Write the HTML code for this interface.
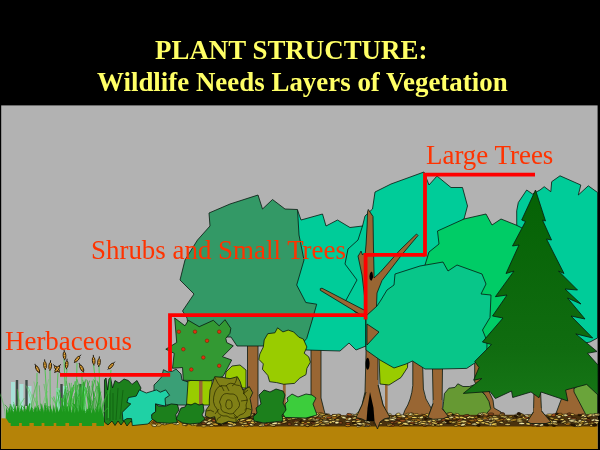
<!DOCTYPE html>
<html><head><meta charset="utf-8"><title>Plant Structure</title>
<style>
html,body{margin:0;padding:0;background:#000;}
#w{position:relative;width:600px;height:450px;overflow:hidden;background:#000;font-family:"Liberation Serif",serif;}
svg{position:absolute;left:0;top:0;filter:blur(0.3px);}
.t{position:absolute;white-space:nowrap;line-height:1;font-size:27.7px;transform:scaleX(0.972);transform-origin:0 0;}
.ttl{color:#ffff66;font-weight:bold;}
.lab{color:#ff3300;}
</style></head><body>
<div id="w">
<svg width="600" height="450" viewBox="0 0 600 450">
<rect x="0" y="0" width="600" height="450" fill="#000"/>
<rect x="1.2" y="105.4" width="596.4" height="343.6" fill="#b2b2b2"/>
<polygon points="570,417 571,391 579,385 586.7,382 592,384 597.6,387 597.6,417" fill="#6aa43a" stroke="#07180f" stroke-width="0.8" stroke-linejoin="miter" />
<polygon points="564,392 555,416 552,421 588,421 585,413 574,392 573,340 565,340" fill="#996633" stroke="#07180f" stroke-width="0.8" stroke-linejoin="miter" />
<polygon points="516.7,210.8 518.3,202.5 526.7,190 532.5,194 540,190 544.2,186.7 550.8,191.7 551.7,181.7 560,175.8 580.8,185 578.3,195 588.3,185.8 597.6,192.5 597.5,338 590,342 560,348 517,300" fill="#00cc99" stroke="#07180f" stroke-width="0.8" stroke-linejoin="miter" />
<polygon points="372.5,209 375,192 391,184 424,172 429,185 437,176 451,187.5 462.5,187.5 467.5,206 464,219 445,235 445,300 366,346 335,330 336,265 342,245 360,228 362.5,226 365,216" fill="#00cc99" stroke="#07180f" stroke-width="0.8" stroke-linejoin="miter" />
<polygon points="474.7,360 484,360 486,385 493,400 494,408 501,412 501,416 483,416 486,408 485,395 478,386 474.7,382" fill="#996633" stroke="#07180f" stroke-width="0.8" stroke-linejoin="miter" />
<polygon points="425,265 429,252 439,244 437.5,231 464,219 486,214 492,225 501,219 516,225 530,232 530,350 484,352 425,300" fill="#00cc66" stroke="#07180f" stroke-width="0.8" stroke-linejoin="miter" />
<polygon points="311,348 311,400 314,410 313,417 326,417 324,410 321,398 321,348" fill="#996633" stroke="#07180f" stroke-width="0.8" stroke-linejoin="miter" />
<polygon points="297.5,210 301,220 322.5,214 326,226 337.5,220 350,227.5 362.5,226 358,240 348,249 345,264 357,280 345,302 355,312 366,316 366,346 356,350 349,343 340,351 306,350 298,330 285,300 285,250" fill="#00cc99" stroke="#07180f" stroke-width="0.8" stroke-linejoin="miter" />
<polygon points="247.5,345 247.5,412 244,417 262,417 258,410 258,345" fill="#996633" stroke="#07180f" stroke-width="0.8" stroke-linejoin="miter" />
<polygon points="182.5,311 194,294 180,280 185,260 197.5,240 210,226 209,213 230,204 258,195 262.5,209 272.5,199.5 285,209 297.5,209.5 299,235 304,260 296.7,285 305.8,302.5 316.7,304.2 312.5,319 306.7,338.5 300,346 262,346 237,346 231,337 190,337 187,318" fill="#339966" stroke="#07180f" stroke-width="0.8" stroke-linejoin="miter" />
<polygon points="368.3,209.5 373,216.5 373.4,244 374,272 374,278 380,272.5 400,250 416.5,234 418,235.5 402,254.5 382,280.5 377,293 376.5,306 378,350 378,385 383,405 390,417.5 384,419 380,422 377.5,429 374,421 366,421 356,417.5 362,405 365,392 366,354 366,318 320.3,290.3 320.3,288.6 322,288.2 365,310.5 365,300 362,275 358,256 359.5,254 361,251 362.5,255 364,253.3 365.2,254 366.1,244 367.1,226 367.5,212" fill="#996633" stroke="#07180f" stroke-width="0.8" stroke-linejoin="miter" />
<path d="M371.2 271.5 q1.8 0.5 1.6 3 q0.8 2 -0.4 4.5 q-0.6 2 -1.6 1.6 q-1.6 -1.5 -1.4 -4.4 q0.2 -3.2 1.8 -4.7z" fill="#000"/>
<ellipse cx="367.6" cy="363.8" rx="2" ry="6" fill="#000"/>
<polygon points="370,392 373.5,408 374.5,420 366.5,420 367.5,408" fill="#000" stroke="none" stroke-width="0" stroke-linejoin="miter" />
<rect x="385" y="380" width="2.6" height="36" fill="#996633"/>
<polygon points="379,355 380,384 389,385 401,377.5 407.5,367.5 408,355" fill="#99cc00" stroke="#07180f" stroke-width="0.8" stroke-linejoin="miter" />
<path d="M412.8 360 V385.5 Q411.5 400 404.8 410.4 L402.5 417 H433 L431.4 408.6 Q424.5 399 423.4 389 L422.5 360 Z" fill="#996633" stroke="#07180f" stroke-width="0.8"/>
<polygon points="432.3,360 433.2,403.3 430,412 427.9,417.5 448.3,417.5 445,412 442,408.6 442.6,360" fill="#996633" stroke="#07180f" stroke-width="0.8" stroke-linejoin="miter" />
<polygon points="387,290 394,285 395,274 420,266 443,262 448,271 457,265 482,274 486,284 481,294 491,295 490,317.5 482.5,330 487,341 486.8,352.4 474.8,363 466.7,368.4 440,369 425,369 412.5,361 406,364 394,368 380,360 366,350 366,316 377,306 381,300" fill="#08c689" stroke="#07180f" stroke-width="0.8" stroke-linejoin="miter" />
<polygon points="367,324 379,332 367,345" fill="#996633" stroke="#07180f" stroke-width="0.8" stroke-linejoin="miter" />
<polygon points="447,416 442.7,408.7 443.6,401.6 444.4,393.6 448.9,388.2 455,387.4 457.8,383.8 463,386.5 469.3,386.5 474,385 480,390 485.4,395.4 489,401.6 490.7,408.7 487,413 486,417" fill="#669933" stroke="#07180f" stroke-width="0.8" stroke-linejoin="miter" />
<polygon points="534,390 533.5,412 526,423 551,423 541.5,411 540.5,390" fill="#996633" stroke="#07180f" stroke-width="0.8" stroke-linejoin="miter" />
<defs><linearGradient id="cg" x1="0" y1="0" x2="0" y2="1"><stop offset="0" stop-color="#056205"/><stop offset="0.75" stop-color="#106c10"/><stop offset="1" stop-color="#167616"/></linearGradient></defs>
<polygon points="535.5,190 545.5,221 542.5,220 551.5,240 546.5,239 564,273.5 558.5,271 577.5,290 565,289 581,304 567.5,298 585,319 571,316 592.7,338 575.8,333.9 597,351.5 587.5,353.3 598,365 598,395 586.7,384.4 565.6,390 567.8,401 541,392 539,397.8 531,392 512.7,397.5 511.5,391 495.4,398.5 490,391.5 463.3,393.4 481.8,378.5 473.6,380.2 479,367.5 474.7,361.4 491.5,344.5 482.4,342 503,318 492.5,316 507,295 495.4,296.7 514,271 506,273.5 519,245 512.5,246 525.5,221.5 521.7,220" fill="url(#cg)" stroke="#07180f" stroke-width="0.8" stroke-linejoin="miter" />
<rect x="282.9" y="380" width="2.8" height="36" fill="#996633"/>
<polygon points="267.8,333.7 274.9,332.8 277.6,327.8 282.9,331.9 288.2,330.1 293.6,331.9 298.9,337.2 303.3,339 306.9,347 304.2,353.2 308.7,356.8 310.4,362.1 306.9,368.3 306,374.6 299.8,378.1 294.4,383.4 283.8,384.3 276.7,382.6 269.6,381.7 267.8,375.4 262.4,369.2 263.3,363.9 258.9,359.4 259.8,354.1 263.3,347 264.2,339.9" fill="#99cc00" stroke="#07180f" stroke-width="0.8" stroke-linejoin="miter" />
<polygon points="224,388 226,372 232,366 240,365 246,370 246,388" fill="#99cc00" stroke="#07180f" stroke-width="0.8" stroke-linejoin="miter" />
<polygon points="185,405 186,382 192,380 212,380 212,405" fill="#99cc00" stroke="#07180f" stroke-width="0.8" stroke-linejoin="miter" />
<rect x="1.2" y="418.3" width="596.4" height="30.7" fill="#b58308"/>
<path d="M196 426.6 L200 417 L230 415.5 L597.5 414.5 V426.6 Z" fill="#4a320e"/>
<ellipse cx="448.4" cy="422.6" rx="2.8" ry="1.2" fill="#2a1804" stroke="#140c02" stroke-width="0.55" transform="rotate(4 448.4 422.6)"/>
<ellipse cx="411.8" cy="423.7" rx="3.1" ry="1.1" fill="#2a1804" stroke="#140c02" stroke-width="0.55" transform="rotate(11 411.8 423.7)"/>
<ellipse cx="247.6" cy="419.3" rx="2.3" ry="0.9" fill="#f0d060" stroke="#140c02" stroke-width="0.55" transform="rotate(-7 247.6 419.3)"/>
<ellipse cx="491.1" cy="418.6" rx="3.1" ry="1.2" fill="#f0d060" stroke="#140c02" stroke-width="0.55" transform="rotate(-10 491.1 418.6)"/>
<ellipse cx="517.1" cy="415.4" rx="2.4" ry="0.9" fill="#f7e9a0" stroke="#140c02" stroke-width="0.55" transform="rotate(13 517.1 415.4)"/>
<ellipse cx="205.1" cy="422.9" rx="3.0" ry="0.9" fill="#f0d060" stroke="#140c02" stroke-width="0.55" transform="rotate(13 205.1 422.9)"/>
<ellipse cx="415.5" cy="421.8" rx="2.1" ry="1.3" fill="#f0d060" stroke="#140c02" stroke-width="0.55" transform="rotate(-8 415.5 421.8)"/>
<ellipse cx="583.2" cy="418.3" rx="2.3" ry="0.9" fill="#f3dc78" stroke="#140c02" stroke-width="0.55" transform="rotate(-10 583.2 418.3)"/>
<ellipse cx="228.7" cy="417.4" rx="2.6" ry="1.1" fill="#f7e9a0" stroke="#140c02" stroke-width="0.55" transform="rotate(6 228.7 417.4)"/>
<ellipse cx="229.0" cy="418.0" rx="2.5" ry="1.0" fill="#e8c24a" stroke="#140c02" stroke-width="0.55" transform="rotate(-1 229.0 418.0)"/>
<ellipse cx="480.6" cy="414.5" rx="3.1" ry="1.0" fill="#f3dc78" stroke="#140c02" stroke-width="0.55" transform="rotate(-3 480.6 414.5)"/>
<ellipse cx="419.3" cy="418.7" rx="2.6" ry="0.8" fill="#c99a2a" stroke="#140c02" stroke-width="0.55" transform="rotate(-13 419.3 418.7)"/>
<ellipse cx="274.3" cy="425.1" rx="2.0" ry="0.9" fill="#f0d060" stroke="#140c02" stroke-width="0.55" transform="rotate(9 274.3 425.1)"/>
<ellipse cx="385.1" cy="419.8" rx="2.2" ry="1.0" fill="#a8551f" stroke="#140c02" stroke-width="0.55" transform="rotate(3 385.1 419.8)"/>
<ellipse cx="510.7" cy="418.1" rx="1.9" ry="1.3" fill="#e8c24a" stroke="#140c02" stroke-width="0.55" transform="rotate(-11 510.7 418.1)"/>
<ellipse cx="337.3" cy="421.0" rx="2.3" ry="1.3" fill="#f0d060" stroke="#140c02" stroke-width="0.55" transform="rotate(1 337.3 421.0)"/>
<ellipse cx="326.1" cy="417.5" rx="2.9" ry="1.1" fill="#f0d060" stroke="#140c02" stroke-width="0.55" transform="rotate(6 326.1 417.5)"/>
<ellipse cx="324.9" cy="419.5" rx="1.9" ry="1.3" fill="#b4781c" stroke="#140c02" stroke-width="0.55" transform="rotate(1 324.9 419.5)"/>
<ellipse cx="362.9" cy="416.6" rx="2.3" ry="0.9" fill="#f7e9a0" stroke="#140c02" stroke-width="0.55" transform="rotate(4 362.9 416.6)"/>
<ellipse cx="260.4" cy="425.4" rx="1.8" ry="1.0" fill="#f7e9a0" stroke="#140c02" stroke-width="0.55" transform="rotate(9 260.4 425.4)"/>
<ellipse cx="254.4" cy="422.4" rx="2.7" ry="1.2" fill="#f0d060" stroke="#140c02" stroke-width="0.55" transform="rotate(-11 254.4 422.4)"/>
<ellipse cx="374.2" cy="415.6" rx="2.2" ry="1.0" fill="#c99a2a" stroke="#140c02" stroke-width="0.55" transform="rotate(14 374.2 415.6)"/>
<ellipse cx="538.8" cy="425.3" rx="3.1" ry="1.1" fill="#8b4a1f" stroke="#140c02" stroke-width="0.55" transform="rotate(-5 538.8 425.3)"/>
<ellipse cx="311.0" cy="419.3" rx="2.0" ry="1.2" fill="#f0d060" stroke="#140c02" stroke-width="0.55" transform="rotate(1 311.0 419.3)"/>
<ellipse cx="273.7" cy="424.9" rx="2.1" ry="1.0" fill="#e8c24a" stroke="#140c02" stroke-width="0.55" transform="rotate(0 273.7 424.9)"/>
<ellipse cx="419.0" cy="419.7" rx="2.9" ry="1.2" fill="#f3dc78" stroke="#140c02" stroke-width="0.55" transform="rotate(5 419.0 419.7)"/>
<ellipse cx="464.6" cy="422.8" rx="2.6" ry="1.1" fill="#e8c24a" stroke="#140c02" stroke-width="0.55" transform="rotate(9 464.6 422.8)"/>
<ellipse cx="307.4" cy="425.4" rx="2.2" ry="1.3" fill="#b4781c" stroke="#140c02" stroke-width="0.55" transform="rotate(4 307.4 425.4)"/>
<ellipse cx="431.8" cy="413.9" rx="2.9" ry="1.0" fill="#a8551f" stroke="#140c02" stroke-width="0.55" transform="rotate(-6 431.8 413.9)"/>
<ellipse cx="316.8" cy="419.7" rx="2.9" ry="1.0" fill="#f7e9a0" stroke="#140c02" stroke-width="0.55" transform="rotate(4 316.8 419.7)"/>
<ellipse cx="493.7" cy="423.6" rx="3.1" ry="0.9" fill="#e8c24a" stroke="#140c02" stroke-width="0.55" transform="rotate(10 493.7 423.6)"/>
<ellipse cx="380.2" cy="418.1" rx="2.5" ry="1.1" fill="#e8c24a" stroke="#140c02" stroke-width="0.55" transform="rotate(-9 380.2 418.1)"/>
<ellipse cx="532.6" cy="424.9" rx="2.2" ry="0.8" fill="#8b4a1f" stroke="#140c02" stroke-width="0.55" transform="rotate(5 532.6 424.9)"/>
<ellipse cx="367.2" cy="421.1" rx="2.5" ry="1.3" fill="#f7e9a0" stroke="#140c02" stroke-width="0.55" transform="rotate(-6 367.2 421.1)"/>
<ellipse cx="421.0" cy="424.0" rx="2.8" ry="0.8" fill="#e8c24a" stroke="#140c02" stroke-width="0.55" transform="rotate(-10 421.0 424.0)"/>
<ellipse cx="376.8" cy="421.5" rx="2.9" ry="0.9" fill="#f0d060" stroke="#140c02" stroke-width="0.55" transform="rotate(6 376.8 421.5)"/>
<ellipse cx="591.7" cy="425.4" rx="1.9" ry="0.9" fill="#f0d060" stroke="#140c02" stroke-width="0.55" transform="rotate(-5 591.7 425.4)"/>
<ellipse cx="274.5" cy="416.1" rx="2.4" ry="1.0" fill="#f3dc78" stroke="#140c02" stroke-width="0.55" transform="rotate(5 274.5 416.1)"/>
<ellipse cx="231.4" cy="416.2" rx="3.1" ry="0.8" fill="#b4781c" stroke="#140c02" stroke-width="0.55" transform="rotate(-3 231.4 416.2)"/>
<ellipse cx="312.7" cy="418.6" rx="2.8" ry="1.1" fill="#f3dc78" stroke="#140c02" stroke-width="0.55" transform="rotate(13 312.7 418.6)"/>
<ellipse cx="419.7" cy="417.4" rx="2.6" ry="1.0" fill="#e8c24a" stroke="#140c02" stroke-width="0.55" transform="rotate(2 419.7 417.4)"/>
<ellipse cx="580.6" cy="423.5" rx="2.4" ry="1.1" fill="#c99a2a" stroke="#140c02" stroke-width="0.55" transform="rotate(1 580.6 423.5)"/>
<ellipse cx="387.2" cy="415.6" rx="2.6" ry="1.3" fill="#c99a2a" stroke="#140c02" stroke-width="0.55" transform="rotate(13 387.2 415.6)"/>
<ellipse cx="442.8" cy="417.9" rx="1.8" ry="0.9" fill="#f7e9a0" stroke="#140c02" stroke-width="0.55" transform="rotate(2 442.8 417.9)"/>
<ellipse cx="445.4" cy="415.5" rx="3.0" ry="1.1" fill="#f7e9a0" stroke="#140c02" stroke-width="0.55" transform="rotate(-2 445.4 415.5)"/>
<ellipse cx="587.8" cy="419.6" rx="3.2" ry="1.0" fill="#8b4a1f" stroke="#140c02" stroke-width="0.55" transform="rotate(13 587.8 419.6)"/>
<ellipse cx="563.0" cy="420.8" rx="2.8" ry="1.0" fill="#e8c24a" stroke="#140c02" stroke-width="0.55" transform="rotate(-7 563.0 420.8)"/>
<ellipse cx="210.8" cy="425.0" rx="2.5" ry="0.9" fill="#e8c24a" stroke="#140c02" stroke-width="0.55" transform="rotate(-1 210.8 425.0)"/>
<ellipse cx="251.0" cy="421.1" rx="2.1" ry="0.8" fill="#8b4a1f" stroke="#140c02" stroke-width="0.55" transform="rotate(-10 251.0 421.1)"/>
<ellipse cx="357.6" cy="419.5" rx="2.2" ry="1.3" fill="#a8551f" stroke="#140c02" stroke-width="0.55" transform="rotate(8 357.6 419.5)"/>
<ellipse cx="299.8" cy="417.0" rx="2.8" ry="0.9" fill="#f0d060" stroke="#140c02" stroke-width="0.55" transform="rotate(-0 299.8 417.0)"/>
<ellipse cx="594.0" cy="419.9" rx="3.0" ry="1.2" fill="#f7e9a0" stroke="#140c02" stroke-width="0.55" transform="rotate(-14 594.0 419.9)"/>
<ellipse cx="252.7" cy="417.1" rx="2.3" ry="0.9" fill="#b4781c" stroke="#140c02" stroke-width="0.55" transform="rotate(1 252.7 417.1)"/>
<ellipse cx="385.9" cy="418.1" rx="2.9" ry="0.9" fill="#b4781c" stroke="#140c02" stroke-width="0.55" transform="rotate(-14 385.9 418.1)"/>
<ellipse cx="421.0" cy="421.9" rx="3.0" ry="1.1" fill="#f3dc78" stroke="#140c02" stroke-width="0.55" transform="rotate(-14 421.0 421.9)"/>
<ellipse cx="509.7" cy="418.8" rx="2.8" ry="1.3" fill="#f7e9a0" stroke="#140c02" stroke-width="0.55" transform="rotate(4 509.7 418.8)"/>
<ellipse cx="541.3" cy="423.7" rx="2.3" ry="1.2" fill="#8b4a1f" stroke="#140c02" stroke-width="0.55" transform="rotate(-8 541.3 423.7)"/>
<ellipse cx="319.8" cy="423.6" rx="2.2" ry="0.8" fill="#f3dc78" stroke="#140c02" stroke-width="0.55" transform="rotate(8 319.8 423.6)"/>
<ellipse cx="432.4" cy="421.5" rx="3.1" ry="0.9" fill="#8b4a1f" stroke="#140c02" stroke-width="0.55" transform="rotate(-1 432.4 421.5)"/>
<ellipse cx="419.3" cy="419.7" rx="2.6" ry="1.0" fill="#e8c24a" stroke="#140c02" stroke-width="0.55" transform="rotate(1 419.3 419.7)"/>
<ellipse cx="222.1" cy="422.4" rx="2.9" ry="1.2" fill="#e8c24a" stroke="#140c02" stroke-width="0.55" transform="rotate(5 222.1 422.4)"/>
<ellipse cx="213.1" cy="422.3" rx="3.2" ry="1.2" fill="#f3dc78" stroke="#140c02" stroke-width="0.55" transform="rotate(-13 213.1 422.3)"/>
<ellipse cx="534.8" cy="416.4" rx="3.0" ry="0.9" fill="#f7e9a0" stroke="#140c02" stroke-width="0.55" transform="rotate(11 534.8 416.4)"/>
<ellipse cx="594.7" cy="422.1" rx="2.0" ry="1.1" fill="#8b4a1f" stroke="#140c02" stroke-width="0.55" transform="rotate(-2 594.7 422.1)"/>
<ellipse cx="266.5" cy="421.1" rx="2.6" ry="1.1" fill="#f3dc78" stroke="#140c02" stroke-width="0.55" transform="rotate(7 266.5 421.1)"/>
<ellipse cx="313.3" cy="420.5" rx="2.8" ry="1.2" fill="#f3dc78" stroke="#140c02" stroke-width="0.55" transform="rotate(-10 313.3 420.5)"/>
<ellipse cx="373.1" cy="417.5" rx="2.5" ry="1.0" fill="#f7e9a0" stroke="#140c02" stroke-width="0.55" transform="rotate(4 373.1 417.5)"/>
<ellipse cx="563.4" cy="415.4" rx="2.0" ry="1.1" fill="#e8c24a" stroke="#140c02" stroke-width="0.55" transform="rotate(0 563.4 415.4)"/>
<ellipse cx="561.7" cy="420.3" rx="2.1" ry="0.8" fill="#f7e9a0" stroke="#140c02" stroke-width="0.55" transform="rotate(-7 561.7 420.3)"/>
<ellipse cx="531.0" cy="417.1" rx="2.9" ry="1.2" fill="#f0d060" stroke="#140c02" stroke-width="0.55" transform="rotate(-1 531.0 417.1)"/>
<ellipse cx="356.2" cy="415.3" rx="2.7" ry="0.8" fill="#f3dc78" stroke="#140c02" stroke-width="0.55" transform="rotate(5 356.2 415.3)"/>
<ellipse cx="238.9" cy="415.3" rx="2.4" ry="1.0" fill="#f7e9a0" stroke="#140c02" stroke-width="0.55" transform="rotate(-1 238.9 415.3)"/>
<ellipse cx="582.5" cy="415.1" rx="1.8" ry="1.2" fill="#a8551f" stroke="#140c02" stroke-width="0.55" transform="rotate(-12 582.5 415.1)"/>
<ellipse cx="262.4" cy="425.0" rx="2.9" ry="1.2" fill="#f7e9a0" stroke="#140c02" stroke-width="0.55" transform="rotate(-12 262.4 425.0)"/>
<ellipse cx="562.1" cy="419.6" rx="2.0" ry="1.1" fill="#f0d060" stroke="#140c02" stroke-width="0.55" transform="rotate(-4 562.1 419.6)"/>
<ellipse cx="295.6" cy="417.7" rx="2.8" ry="1.2" fill="#f7e9a0" stroke="#140c02" stroke-width="0.55" transform="rotate(-3 295.6 417.7)"/>
<ellipse cx="487.8" cy="418.0" rx="2.9" ry="1.0" fill="#e8c24a" stroke="#140c02" stroke-width="0.55" transform="rotate(10 487.8 418.0)"/>
<ellipse cx="406.9" cy="420.8" rx="2.1" ry="0.9" fill="#f7e9a0" stroke="#140c02" stroke-width="0.55" transform="rotate(-12 406.9 420.8)"/>
<ellipse cx="217.6" cy="416.0" rx="1.9" ry="1.2" fill="#f0d060" stroke="#140c02" stroke-width="0.55" transform="rotate(-1 217.6 416.0)"/>
<ellipse cx="502.6" cy="413.8" rx="2.2" ry="1.3" fill="#8b4a1f" stroke="#140c02" stroke-width="0.55" transform="rotate(12 502.6 413.8)"/>
<ellipse cx="330.4" cy="419.3" rx="2.0" ry="0.9" fill="#f0d060" stroke="#140c02" stroke-width="0.55" transform="rotate(-4 330.4 419.3)"/>
<ellipse cx="354.9" cy="424.2" rx="2.6" ry="0.9" fill="#f0d060" stroke="#140c02" stroke-width="0.55" transform="rotate(9 354.9 424.2)"/>
<ellipse cx="498.6" cy="421.7" rx="2.5" ry="0.8" fill="#f3dc78" stroke="#140c02" stroke-width="0.55" transform="rotate(12 498.6 421.7)"/>
<ellipse cx="348.4" cy="424.9" rx="1.8" ry="1.0" fill="#b4781c" stroke="#140c02" stroke-width="0.55" transform="rotate(10 348.4 424.9)"/>
<ellipse cx="264.5" cy="423.1" rx="2.2" ry="1.1" fill="#e8c24a" stroke="#140c02" stroke-width="0.55" transform="rotate(6 264.5 423.1)"/>
<ellipse cx="267.3" cy="416.2" rx="2.6" ry="1.1" fill="#f3dc78" stroke="#140c02" stroke-width="0.55" transform="rotate(3 267.3 416.2)"/>
<ellipse cx="562.2" cy="422.1" rx="2.2" ry="1.0" fill="#f7e9a0" stroke="#140c02" stroke-width="0.55" transform="rotate(-6 562.2 422.1)"/>
<ellipse cx="491.5" cy="422.3" rx="2.9" ry="0.9" fill="#f0d060" stroke="#140c02" stroke-width="0.55" transform="rotate(-8 491.5 422.3)"/>
<ellipse cx="220.3" cy="421.0" rx="3.2" ry="0.8" fill="#b4781c" stroke="#140c02" stroke-width="0.55" transform="rotate(-12 220.3 421.0)"/>
<ellipse cx="510.0" cy="418.6" rx="1.8" ry="1.2" fill="#f3dc78" stroke="#140c02" stroke-width="0.55" transform="rotate(9 510.0 418.6)"/>
<ellipse cx="425.7" cy="424.9" rx="1.9" ry="1.2" fill="#b4781c" stroke="#140c02" stroke-width="0.55" transform="rotate(-0 425.7 424.9)"/>
<ellipse cx="571.7" cy="414.4" rx="2.7" ry="1.0" fill="#f0d060" stroke="#140c02" stroke-width="0.55" transform="rotate(8 571.7 414.4)"/>
<ellipse cx="221.9" cy="423.6" rx="2.2" ry="0.8" fill="#8b4a1f" stroke="#140c02" stroke-width="0.55" transform="rotate(-13 221.9 423.6)"/>
<ellipse cx="585.8" cy="415.9" rx="2.7" ry="0.9" fill="#a8551f" stroke="#140c02" stroke-width="0.55" transform="rotate(-7 585.8 415.9)"/>
<ellipse cx="568.2" cy="423.1" rx="2.6" ry="1.3" fill="#f3dc78" stroke="#140c02" stroke-width="0.55" transform="rotate(3 568.2 423.1)"/>
<ellipse cx="540.6" cy="416.3" rx="2.4" ry="1.0" fill="#f3dc78" stroke="#140c02" stroke-width="0.55" transform="rotate(-2 540.6 416.3)"/>
<ellipse cx="505.6" cy="420.0" rx="2.8" ry="1.3" fill="#f0d060" stroke="#140c02" stroke-width="0.55" transform="rotate(-5 505.6 420.0)"/>
<ellipse cx="379.9" cy="423.6" rx="2.6" ry="0.9" fill="#f0d060" stroke="#140c02" stroke-width="0.55" transform="rotate(-0 379.9 423.6)"/>
<ellipse cx="510.3" cy="416.9" rx="2.2" ry="0.9" fill="#c99a2a" stroke="#140c02" stroke-width="0.55" transform="rotate(-12 510.3 416.9)"/>
<ellipse cx="299.5" cy="414.8" rx="3.2" ry="1.1" fill="#c99a2a" stroke="#140c02" stroke-width="0.55" transform="rotate(-6 299.5 414.8)"/>
<ellipse cx="397.1" cy="416.7" rx="2.1" ry="0.9" fill="#b4781c" stroke="#140c02" stroke-width="0.55" transform="rotate(-4 397.1 416.7)"/>
<ellipse cx="241.8" cy="418.8" rx="2.3" ry="1.2" fill="#e8c24a" stroke="#140c02" stroke-width="0.55" transform="rotate(-14 241.8 418.8)"/>
<ellipse cx="315.6" cy="424.9" rx="2.6" ry="1.0" fill="#f0d060" stroke="#140c02" stroke-width="0.55" transform="rotate(9 315.6 424.9)"/>
<ellipse cx="461.3" cy="425.1" rx="1.9" ry="1.0" fill="#b4781c" stroke="#140c02" stroke-width="0.55" transform="rotate(-11 461.3 425.1)"/>
<ellipse cx="520.3" cy="420.4" rx="1.9" ry="0.9" fill="#e8c24a" stroke="#140c02" stroke-width="0.55" transform="rotate(-7 520.3 420.4)"/>
<ellipse cx="469.3" cy="417.2" rx="2.6" ry="1.2" fill="#f3dc78" stroke="#140c02" stroke-width="0.55" transform="rotate(-13 469.3 417.2)"/>
<ellipse cx="250.9" cy="425.2" rx="2.4" ry="0.9" fill="#e8c24a" stroke="#140c02" stroke-width="0.55" transform="rotate(13 250.9 425.2)"/>
<ellipse cx="209.5" cy="420.0" rx="2.3" ry="1.0" fill="#f0d060" stroke="#140c02" stroke-width="0.55" transform="rotate(-14 209.5 420.0)"/>
<ellipse cx="433.3" cy="423.6" rx="3.2" ry="0.9" fill="#b4781c" stroke="#140c02" stroke-width="0.55" transform="rotate(3 433.3 423.6)"/>
<ellipse cx="451.4" cy="415.5" rx="3.1" ry="1.2" fill="#2a1804" stroke="#140c02" stroke-width="0.55" transform="rotate(-11 451.4 415.5)"/>
<ellipse cx="327.9" cy="424.6" rx="2.6" ry="0.9" fill="#8b4a1f" stroke="#140c02" stroke-width="0.55" transform="rotate(-13 327.9 424.6)"/>
<ellipse cx="466.2" cy="415.7" rx="3.2" ry="1.1" fill="#8b4a1f" stroke="#140c02" stroke-width="0.55" transform="rotate(-11 466.2 415.7)"/>
<ellipse cx="523.8" cy="418.7" rx="2.1" ry="0.8" fill="#f3dc78" stroke="#140c02" stroke-width="0.55" transform="rotate(11 523.8 418.7)"/>
<ellipse cx="295.9" cy="422.1" rx="2.3" ry="0.9" fill="#e8c24a" stroke="#140c02" stroke-width="0.55" transform="rotate(-6 295.9 422.1)"/>
<ellipse cx="282.3" cy="420.4" rx="2.9" ry="1.2" fill="#e8c24a" stroke="#140c02" stroke-width="0.55" transform="rotate(-4 282.3 420.4)"/>
<ellipse cx="521.7" cy="423.4" rx="3.0" ry="1.2" fill="#f7e9a0" stroke="#140c02" stroke-width="0.55" transform="rotate(3 521.7 423.4)"/>
<ellipse cx="360.9" cy="415.5" rx="2.5" ry="0.8" fill="#f0d060" stroke="#140c02" stroke-width="0.55" transform="rotate(-9 360.9 415.5)"/>
<ellipse cx="241.9" cy="422.3" rx="2.9" ry="1.2" fill="#f0d060" stroke="#140c02" stroke-width="0.55" transform="rotate(-1 241.9 422.3)"/>
<ellipse cx="388.2" cy="420.1" rx="2.9" ry="1.0" fill="#f3dc78" stroke="#140c02" stroke-width="0.55" transform="rotate(-14 388.2 420.1)"/>
<ellipse cx="404.6" cy="420.7" rx="2.9" ry="0.8" fill="#f0d060" stroke="#140c02" stroke-width="0.55" transform="rotate(5 404.6 420.7)"/>
<ellipse cx="443.4" cy="419.9" rx="2.5" ry="1.2" fill="#a8551f" stroke="#140c02" stroke-width="0.55" transform="rotate(-3 443.4 419.9)"/>
<ellipse cx="590.1" cy="423.4" rx="2.6" ry="0.8" fill="#b4781c" stroke="#140c02" stroke-width="0.55" transform="rotate(-10 590.1 423.4)"/>
<ellipse cx="367.2" cy="425.1" rx="2.8" ry="1.1" fill="#f3dc78" stroke="#140c02" stroke-width="0.55" transform="rotate(-6 367.2 425.1)"/>
<ellipse cx="233.6" cy="414.8" rx="2.7" ry="1.2" fill="#e8c24a" stroke="#140c02" stroke-width="0.55" transform="rotate(12 233.6 414.8)"/>
<ellipse cx="365.8" cy="425.2" rx="2.2" ry="1.2" fill="#f3dc78" stroke="#140c02" stroke-width="0.55" transform="rotate(-12 365.8 425.2)"/>
<ellipse cx="499.8" cy="421.7" rx="3.1" ry="1.1" fill="#e8c24a" stroke="#140c02" stroke-width="0.55" transform="rotate(9 499.8 421.7)"/>
<ellipse cx="494.0" cy="421.0" rx="2.5" ry="0.8" fill="#f0d060" stroke="#140c02" stroke-width="0.55" transform="rotate(-11 494.0 421.0)"/>
<ellipse cx="337.7" cy="423.1" rx="2.4" ry="0.8" fill="#c99a2a" stroke="#140c02" stroke-width="0.55" transform="rotate(-3 337.7 423.1)"/>
<ellipse cx="273.2" cy="421.5" rx="3.1" ry="1.1" fill="#f0d060" stroke="#140c02" stroke-width="0.55" transform="rotate(-3 273.2 421.5)"/>
<ellipse cx="245.9" cy="421.9" rx="2.8" ry="1.3" fill="#a8551f" stroke="#140c02" stroke-width="0.55" transform="rotate(-7 245.9 421.9)"/>
<ellipse cx="242.4" cy="417.3" rx="2.2" ry="1.1" fill="#2a1804" stroke="#140c02" stroke-width="0.55" transform="rotate(11 242.4 417.3)"/>
<ellipse cx="269.0" cy="421.3" rx="2.1" ry="1.1" fill="#2a1804" stroke="#140c02" stroke-width="0.55" transform="rotate(2 269.0 421.3)"/>
<ellipse cx="449.8" cy="421.4" rx="2.8" ry="1.0" fill="#a8551f" stroke="#140c02" stroke-width="0.55" transform="rotate(-2 449.8 421.4)"/>
<ellipse cx="411.3" cy="424.5" rx="2.4" ry="0.8" fill="#e8c24a" stroke="#140c02" stroke-width="0.55" transform="rotate(11 411.3 424.5)"/>
<ellipse cx="333.3" cy="418.8" rx="2.0" ry="1.1" fill="#f0d060" stroke="#140c02" stroke-width="0.55" transform="rotate(3 333.3 418.8)"/>
<ellipse cx="275.4" cy="416.0" rx="1.9" ry="1.2" fill="#f7e9a0" stroke="#140c02" stroke-width="0.55" transform="rotate(-5 275.4 416.0)"/>
<ellipse cx="233.0" cy="425.0" rx="3.0" ry="1.3" fill="#f0d060" stroke="#140c02" stroke-width="0.55" transform="rotate(-5 233.0 425.0)"/>
<ellipse cx="538.0" cy="421.4" rx="3.1" ry="1.1" fill="#f0d060" stroke="#140c02" stroke-width="0.55" transform="rotate(8 538.0 421.4)"/>
<ellipse cx="533.9" cy="413.8" rx="2.0" ry="0.8" fill="#f7e9a0" stroke="#140c02" stroke-width="0.55" transform="rotate(-10 533.9 413.8)"/>
<ellipse cx="445.6" cy="415.0" rx="2.4" ry="1.0" fill="#2a1804" stroke="#140c02" stroke-width="0.55" transform="rotate(8 445.6 415.0)"/>
<ellipse cx="275.1" cy="424.3" rx="3.1" ry="1.1" fill="#a8551f" stroke="#140c02" stroke-width="0.55" transform="rotate(13 275.1 424.3)"/>
<ellipse cx="243.7" cy="415.0" rx="2.1" ry="1.0" fill="#f3dc78" stroke="#140c02" stroke-width="0.55" transform="rotate(-9 243.7 415.0)"/>
<ellipse cx="554.0" cy="425.5" rx="1.9" ry="1.0" fill="#2a1804" stroke="#140c02" stroke-width="0.55" transform="rotate(1 554.0 425.5)"/>
<ellipse cx="350.8" cy="415.2" rx="3.1" ry="0.9" fill="#f7e9a0" stroke="#140c02" stroke-width="0.55" transform="rotate(-14 350.8 415.2)"/>
<ellipse cx="353.1" cy="417.8" rx="1.9" ry="1.2" fill="#b4781c" stroke="#140c02" stroke-width="0.55" transform="rotate(6 353.1 417.8)"/>
<ellipse cx="319.6" cy="415.2" rx="3.2" ry="1.2" fill="#8b4a1f" stroke="#140c02" stroke-width="0.55" transform="rotate(-9 319.6 415.2)"/>
<ellipse cx="338.4" cy="415.5" rx="2.7" ry="1.2" fill="#8b4a1f" stroke="#140c02" stroke-width="0.55" transform="rotate(-12 338.4 415.5)"/>
<ellipse cx="246.3" cy="418.6" rx="2.5" ry="0.8" fill="#f3dc78" stroke="#140c02" stroke-width="0.55" transform="rotate(-2 246.3 418.6)"/>
<ellipse cx="296.7" cy="421.7" rx="2.0" ry="1.3" fill="#f3dc78" stroke="#140c02" stroke-width="0.55" transform="rotate(1 296.7 421.7)"/>
<ellipse cx="373.4" cy="415.9" rx="3.0" ry="0.9" fill="#c99a2a" stroke="#140c02" stroke-width="0.55" transform="rotate(-1 373.4 415.9)"/>
<ellipse cx="253.8" cy="414.8" rx="2.0" ry="1.2" fill="#2a1804" stroke="#140c02" stroke-width="0.55" transform="rotate(-13 253.8 414.8)"/>
<ellipse cx="424.6" cy="425.1" rx="1.9" ry="1.3" fill="#a8551f" stroke="#140c02" stroke-width="0.55" transform="rotate(-9 424.6 425.1)"/>
<ellipse cx="519.6" cy="413.9" rx="1.9" ry="0.9" fill="#a8551f" stroke="#140c02" stroke-width="0.55" transform="rotate(13 519.6 413.9)"/>
<ellipse cx="473.7" cy="419.8" rx="2.0" ry="1.2" fill="#f3dc78" stroke="#140c02" stroke-width="0.55" transform="rotate(0 473.7 419.8)"/>
<ellipse cx="541.9" cy="424.9" rx="2.7" ry="1.1" fill="#f7e9a0" stroke="#140c02" stroke-width="0.55" transform="rotate(-13 541.9 424.9)"/>
<ellipse cx="212.4" cy="422.9" rx="2.9" ry="1.2" fill="#c99a2a" stroke="#140c02" stroke-width="0.55" transform="rotate(-2 212.4 422.9)"/>
<ellipse cx="556.9" cy="414.0" rx="2.0" ry="1.0" fill="#2a1804" stroke="#140c02" stroke-width="0.55" transform="rotate(-6 556.9 414.0)"/>
<ellipse cx="278.2" cy="423.6" rx="3.2" ry="0.9" fill="#f3dc78" stroke="#140c02" stroke-width="0.55" transform="rotate(-2 278.2 423.6)"/>
<ellipse cx="309.7" cy="419.3" rx="1.8" ry="1.1" fill="#e8c24a" stroke="#140c02" stroke-width="0.55" transform="rotate(8 309.7 419.3)"/>
<ellipse cx="501.7" cy="414.7" rx="2.3" ry="1.2" fill="#f7e9a0" stroke="#140c02" stroke-width="0.55" transform="rotate(11 501.7 414.7)"/>
<ellipse cx="280.4" cy="414.0" rx="3.1" ry="1.1" fill="#8b4a1f" stroke="#140c02" stroke-width="0.55" transform="rotate(-10 280.4 414.0)"/>
<ellipse cx="296.2" cy="424.7" rx="1.8" ry="0.9" fill="#f7e9a0" stroke="#140c02" stroke-width="0.55" transform="rotate(-2 296.2 424.7)"/>
<ellipse cx="308.1" cy="422.7" rx="2.3" ry="0.9" fill="#e8c24a" stroke="#140c02" stroke-width="0.55" transform="rotate(-6 308.1 422.7)"/>
<ellipse cx="556.1" cy="424.3" rx="1.9" ry="0.9" fill="#a8551f" stroke="#140c02" stroke-width="0.55" transform="rotate(4 556.1 424.3)"/>
<ellipse cx="350.7" cy="418.2" rx="2.6" ry="1.0" fill="#8b4a1f" stroke="#140c02" stroke-width="0.55" transform="rotate(10 350.7 418.2)"/>
<ellipse cx="583.2" cy="415.5" rx="2.6" ry="1.2" fill="#f3dc78" stroke="#140c02" stroke-width="0.55" transform="rotate(-10 583.2 415.5)"/>
<ellipse cx="392.6" cy="422.1" rx="1.8" ry="0.9" fill="#f3dc78" stroke="#140c02" stroke-width="0.55" transform="rotate(-7 392.6 422.1)"/>
<ellipse cx="485.2" cy="416.6" rx="1.9" ry="1.1" fill="#e8c24a" stroke="#140c02" stroke-width="0.55" transform="rotate(-13 485.2 416.6)"/>
<ellipse cx="354.9" cy="417.9" rx="2.6" ry="1.0" fill="#f3dc78" stroke="#140c02" stroke-width="0.55" transform="rotate(-11 354.9 417.9)"/>
<ellipse cx="251.6" cy="424.5" rx="2.5" ry="1.2" fill="#f7e9a0" stroke="#140c02" stroke-width="0.55" transform="rotate(12 251.6 424.5)"/>
<ellipse cx="577.2" cy="425.5" rx="3.0" ry="1.1" fill="#e8c24a" stroke="#140c02" stroke-width="0.55" transform="rotate(5 577.2 425.5)"/>
<ellipse cx="457.0" cy="414.5" rx="2.5" ry="1.0" fill="#f0d060" stroke="#140c02" stroke-width="0.55" transform="rotate(12 457.0 414.5)"/>
<ellipse cx="320.9" cy="420.3" rx="2.0" ry="1.0" fill="#c99a2a" stroke="#140c02" stroke-width="0.55" transform="rotate(-0 320.9 420.3)"/>
<ellipse cx="426.0" cy="416.2" rx="1.9" ry="1.2" fill="#8b4a1f" stroke="#140c02" stroke-width="0.55" transform="rotate(-11 426.0 416.2)"/>
<ellipse cx="551.8" cy="418.2" rx="2.2" ry="0.9" fill="#e8c24a" stroke="#140c02" stroke-width="0.55" transform="rotate(8 551.8 418.2)"/>
<ellipse cx="495.0" cy="416.9" rx="2.7" ry="1.0" fill="#f3dc78" stroke="#140c02" stroke-width="0.55" transform="rotate(4 495.0 416.9)"/>
<ellipse cx="299.8" cy="416.9" rx="3.1" ry="1.2" fill="#8b4a1f" stroke="#140c02" stroke-width="0.55" transform="rotate(3 299.8 416.9)"/>
<ellipse cx="425.9" cy="424.4" rx="2.6" ry="0.8" fill="#e8c24a" stroke="#140c02" stroke-width="0.55" transform="rotate(-13 425.9 424.4)"/>
<ellipse cx="527.7" cy="419.6" rx="1.9" ry="1.1" fill="#f7e9a0" stroke="#140c02" stroke-width="0.55" transform="rotate(-11 527.7 419.6)"/>
<ellipse cx="487.1" cy="421.0" rx="2.6" ry="1.1" fill="#f7e9a0" stroke="#140c02" stroke-width="0.55" transform="rotate(5 487.1 421.0)"/>
<ellipse cx="481.1" cy="422.3" rx="1.9" ry="0.8" fill="#f7e9a0" stroke="#140c02" stroke-width="0.55" transform="rotate(-1 481.1 422.3)"/>
<ellipse cx="458.7" cy="424.3" rx="3.0" ry="1.3" fill="#b4781c" stroke="#140c02" stroke-width="0.55" transform="rotate(5 458.7 424.3)"/>
<ellipse cx="310.7" cy="418.6" rx="2.2" ry="0.9" fill="#e8c24a" stroke="#140c02" stroke-width="0.55" transform="rotate(-14 310.7 418.6)"/>
<ellipse cx="501.7" cy="419.9" rx="2.5" ry="0.9" fill="#8b4a1f" stroke="#140c02" stroke-width="0.55" transform="rotate(-8 501.7 419.9)"/>
<ellipse cx="306.8" cy="425.0" rx="2.4" ry="0.9" fill="#f0d060" stroke="#140c02" stroke-width="0.55" transform="rotate(14 306.8 425.0)"/>
<ellipse cx="455.1" cy="419.0" rx="2.7" ry="0.9" fill="#a8551f" stroke="#140c02" stroke-width="0.55" transform="rotate(-10 455.1 419.0)"/>
<ellipse cx="396.5" cy="421.9" rx="3.1" ry="1.0" fill="#8b4a1f" stroke="#140c02" stroke-width="0.55" transform="rotate(-14 396.5 421.9)"/>
<ellipse cx="373.9" cy="420.4" rx="2.6" ry="1.3" fill="#a8551f" stroke="#140c02" stroke-width="0.55" transform="rotate(2 373.9 420.4)"/>
<ellipse cx="464.0" cy="418.8" rx="2.2" ry="1.0" fill="#2a1804" stroke="#140c02" stroke-width="0.55" transform="rotate(3 464.0 418.8)"/>
<ellipse cx="280.3" cy="418.8" rx="2.2" ry="1.1" fill="#a8551f" stroke="#140c02" stroke-width="0.55" transform="rotate(4 280.3 418.8)"/>
<ellipse cx="579.7" cy="415.2" rx="2.0" ry="0.8" fill="#2a1804" stroke="#140c02" stroke-width="0.55" transform="rotate(10 579.7 415.2)"/>
<ellipse cx="315.1" cy="422.7" rx="1.9" ry="1.3" fill="#f0d060" stroke="#140c02" stroke-width="0.55" transform="rotate(-3 315.1 422.7)"/>
<ellipse cx="453.7" cy="422.3" rx="1.9" ry="1.2" fill="#e8c24a" stroke="#140c02" stroke-width="0.55" transform="rotate(11 453.7 422.3)"/>
<ellipse cx="325.9" cy="417.3" rx="2.4" ry="1.2" fill="#e8c24a" stroke="#140c02" stroke-width="0.55" transform="rotate(-12 325.9 417.3)"/>
<ellipse cx="321.8" cy="415.9" rx="2.9" ry="1.2" fill="#f3dc78" stroke="#140c02" stroke-width="0.55" transform="rotate(0 321.8 415.9)"/>
<ellipse cx="244.0" cy="418.7" rx="2.4" ry="1.3" fill="#f0d060" stroke="#140c02" stroke-width="0.55" transform="rotate(1 244.0 418.7)"/>
<ellipse cx="459.7" cy="421.8" rx="3.1" ry="1.3" fill="#e8c24a" stroke="#140c02" stroke-width="0.55" transform="rotate(-1 459.7 421.8)"/>
<ellipse cx="243.5" cy="422.9" rx="2.7" ry="0.8" fill="#f3dc78" stroke="#140c02" stroke-width="0.55" transform="rotate(4 243.5 422.9)"/>
<ellipse cx="464.5" cy="418.3" rx="2.2" ry="1.1" fill="#f3dc78" stroke="#140c02" stroke-width="0.55" transform="rotate(13 464.5 418.3)"/>
<ellipse cx="371.6" cy="416.3" rx="3.2" ry="0.9" fill="#a8551f" stroke="#140c02" stroke-width="0.55" transform="rotate(4 371.6 416.3)"/>
<ellipse cx="274.3" cy="416.1" rx="2.8" ry="0.8" fill="#2a1804" stroke="#140c02" stroke-width="0.55" transform="rotate(-5 274.3 416.1)"/>
<ellipse cx="540.3" cy="421.4" rx="2.4" ry="1.3" fill="#e8c24a" stroke="#140c02" stroke-width="0.55" transform="rotate(2 540.3 421.4)"/>
<ellipse cx="400.1" cy="417.2" rx="2.7" ry="1.0" fill="#b4781c" stroke="#140c02" stroke-width="0.55" transform="rotate(-3 400.1 417.2)"/>
<ellipse cx="482.7" cy="415.0" rx="2.1" ry="1.1" fill="#f7e9a0" stroke="#140c02" stroke-width="0.55" transform="rotate(6 482.7 415.0)"/>
<ellipse cx="243.4" cy="425.6" rx="2.1" ry="1.1" fill="#f0d060" stroke="#140c02" stroke-width="0.55" transform="rotate(6 243.4 425.6)"/>
<ellipse cx="304.3" cy="419.3" rx="2.0" ry="1.1" fill="#f7e9a0" stroke="#140c02" stroke-width="0.55" transform="rotate(-11 304.3 419.3)"/>
<ellipse cx="431.7" cy="416.8" rx="2.8" ry="1.1" fill="#e8c24a" stroke="#140c02" stroke-width="0.55" transform="rotate(2 431.7 416.8)"/>
<ellipse cx="284.4" cy="414.1" rx="2.6" ry="1.1" fill="#f7e9a0" stroke="#140c02" stroke-width="0.55" transform="rotate(-0 284.4 414.1)"/>
<ellipse cx="547.2" cy="424.6" rx="2.6" ry="0.8" fill="#e8c24a" stroke="#140c02" stroke-width="0.55" transform="rotate(-6 547.2 424.6)"/>
<ellipse cx="409.4" cy="417.3" rx="3.2" ry="0.9" fill="#e8c24a" stroke="#140c02" stroke-width="0.55" transform="rotate(4 409.4 417.3)"/>
<ellipse cx="501.3" cy="422.4" rx="2.5" ry="0.9" fill="#f3dc78" stroke="#140c02" stroke-width="0.55" transform="rotate(13 501.3 422.4)"/>
<ellipse cx="367.5" cy="417.1" rx="2.7" ry="1.0" fill="#f7e9a0" stroke="#140c02" stroke-width="0.55" transform="rotate(6 367.5 417.1)"/>
<ellipse cx="402.0" cy="422.2" rx="2.9" ry="0.8" fill="#f7e9a0" stroke="#140c02" stroke-width="0.55" transform="rotate(2 402.0 422.2)"/>
<ellipse cx="459.9" cy="420.2" rx="2.9" ry="1.2" fill="#8b4a1f" stroke="#140c02" stroke-width="0.55" transform="rotate(-13 459.9 420.2)"/>
<ellipse cx="413.9" cy="419.4" rx="2.8" ry="0.9" fill="#f3dc78" stroke="#140c02" stroke-width="0.55" transform="rotate(-9 413.9 419.4)"/>
<ellipse cx="402.9" cy="421.7" rx="2.7" ry="1.0" fill="#c99a2a" stroke="#140c02" stroke-width="0.55" transform="rotate(4 402.9 421.7)"/>
<ellipse cx="293.2" cy="417.0" rx="2.1" ry="0.9" fill="#f3dc78" stroke="#140c02" stroke-width="0.55" transform="rotate(-12 293.2 417.0)"/>
<ellipse cx="569.8" cy="418.2" rx="2.2" ry="1.2" fill="#f7e9a0" stroke="#140c02" stroke-width="0.55" transform="rotate(-4 569.8 418.2)"/>
<ellipse cx="438.1" cy="422.7" rx="2.9" ry="1.2" fill="#8b4a1f" stroke="#140c02" stroke-width="0.55" transform="rotate(11 438.1 422.7)"/>
<ellipse cx="412.1" cy="413.8" rx="1.9" ry="0.8" fill="#c99a2a" stroke="#140c02" stroke-width="0.55" transform="rotate(7 412.1 413.8)"/>
<ellipse cx="244.9" cy="419.2" rx="3.1" ry="1.0" fill="#8b4a1f" stroke="#140c02" stroke-width="0.55" transform="rotate(-6 244.9 419.2)"/>
<ellipse cx="232.4" cy="422.9" rx="2.9" ry="1.1" fill="#b4781c" stroke="#140c02" stroke-width="0.55" transform="rotate(9 232.4 422.9)"/>
<ellipse cx="444.9" cy="422.2" rx="2.1" ry="1.1" fill="#f7e9a0" stroke="#140c02" stroke-width="0.55" transform="rotate(-2 444.9 422.2)"/>
<ellipse cx="400.9" cy="425.2" rx="2.3" ry="0.9" fill="#b4781c" stroke="#140c02" stroke-width="0.55" transform="rotate(-4 400.9 425.2)"/>
<ellipse cx="238.1" cy="416.4" rx="1.8" ry="0.8" fill="#f3dc78" stroke="#140c02" stroke-width="0.55" transform="rotate(-9 238.1 416.4)"/>
<ellipse cx="546.4" cy="418.4" rx="3.1" ry="1.2" fill="#2a1804" stroke="#140c02" stroke-width="0.55" transform="rotate(5 546.4 418.4)"/>
<ellipse cx="288.5" cy="418.6" rx="2.0" ry="1.3" fill="#8b4a1f" stroke="#140c02" stroke-width="0.55" transform="rotate(-6 288.5 418.6)"/>
<ellipse cx="409.8" cy="416.2" rx="3.0" ry="1.1" fill="#b4781c" stroke="#140c02" stroke-width="0.55" transform="rotate(7 409.8 416.2)"/>
<ellipse cx="546.1" cy="424.6" rx="2.9" ry="1.2" fill="#2a1804" stroke="#140c02" stroke-width="0.55" transform="rotate(11 546.1 424.6)"/>
<ellipse cx="423.9" cy="423.5" rx="2.4" ry="0.9" fill="#b4781c" stroke="#140c02" stroke-width="0.55" transform="rotate(-5 423.9 423.5)"/>
<ellipse cx="301.6" cy="421.8" rx="1.9" ry="1.2" fill="#2a1804" stroke="#140c02" stroke-width="0.55" transform="rotate(13 301.6 421.8)"/>
<ellipse cx="266.5" cy="421.3" rx="2.6" ry="1.0" fill="#b4781c" stroke="#140c02" stroke-width="0.55" transform="rotate(-10 266.5 421.3)"/>
<ellipse cx="316.5" cy="413.9" rx="2.8" ry="1.3" fill="#f0d060" stroke="#140c02" stroke-width="0.55" transform="rotate(7 316.5 413.9)"/>
<ellipse cx="479.2" cy="419.3" rx="2.8" ry="1.2" fill="#e8c24a" stroke="#140c02" stroke-width="0.55" transform="rotate(-0 479.2 419.3)"/>
<ellipse cx="347.8" cy="425.5" rx="2.6" ry="1.2" fill="#b4781c" stroke="#140c02" stroke-width="0.55" transform="rotate(-1 347.8 425.5)"/>
<ellipse cx="519.5" cy="419.1" rx="2.7" ry="1.1" fill="#e8c24a" stroke="#140c02" stroke-width="0.55" transform="rotate(-9 519.5 419.1)"/>
<ellipse cx="371.0" cy="419.0" rx="2.1" ry="0.9" fill="#f3dc78" stroke="#140c02" stroke-width="0.55" transform="rotate(9 371.0 419.0)"/>
<ellipse cx="230.9" cy="420.1" rx="1.9" ry="1.1" fill="#f0d060" stroke="#140c02" stroke-width="0.55" transform="rotate(-5 230.9 420.1)"/>
<ellipse cx="234.9" cy="417.6" rx="2.2" ry="1.2" fill="#f0d060" stroke="#140c02" stroke-width="0.55" transform="rotate(8 234.9 417.6)"/>
<ellipse cx="325.0" cy="421.8" rx="3.1" ry="1.2" fill="#f3dc78" stroke="#140c02" stroke-width="0.55" transform="rotate(7 325.0 421.8)"/>
<ellipse cx="546.2" cy="421.8" rx="1.9" ry="1.1" fill="#f3dc78" stroke="#140c02" stroke-width="0.55" transform="rotate(-1 546.2 421.8)"/>
<ellipse cx="377.6" cy="415.6" rx="2.7" ry="1.1" fill="#e8c24a" stroke="#140c02" stroke-width="0.55" transform="rotate(13 377.6 415.6)"/>
<ellipse cx="406.6" cy="424.2" rx="2.6" ry="0.8" fill="#f3dc78" stroke="#140c02" stroke-width="0.55" transform="rotate(-3 406.6 424.2)"/>
<ellipse cx="366.0" cy="415.7" rx="3.1" ry="0.8" fill="#f7e9a0" stroke="#140c02" stroke-width="0.55" transform="rotate(-4 366.0 415.7)"/>
<ellipse cx="285.4" cy="421.8" rx="2.3" ry="1.2" fill="#8b4a1f" stroke="#140c02" stroke-width="0.55" transform="rotate(-0 285.4 421.8)"/>
<ellipse cx="217.0" cy="425.2" rx="3.0" ry="0.8" fill="#b4781c" stroke="#140c02" stroke-width="0.55" transform="rotate(-8 217.0 425.2)"/>
<ellipse cx="315.5" cy="416.9" rx="2.5" ry="1.1" fill="#a8551f" stroke="#140c02" stroke-width="0.55" transform="rotate(-11 315.5 416.9)"/>
<ellipse cx="404.1" cy="424.2" rx="2.7" ry="1.1" fill="#c99a2a" stroke="#140c02" stroke-width="0.55" transform="rotate(-3 404.1 424.2)"/>
<ellipse cx="371.0" cy="415.4" rx="2.3" ry="0.8" fill="#8b4a1f" stroke="#140c02" stroke-width="0.55" transform="rotate(8 371.0 415.4)"/>
<ellipse cx="368.9" cy="424.9" rx="2.0" ry="1.0" fill="#f3dc78" stroke="#140c02" stroke-width="0.55" transform="rotate(7 368.9 424.9)"/>
<ellipse cx="219.3" cy="415.1" rx="2.8" ry="0.8" fill="#2a1804" stroke="#140c02" stroke-width="0.55" transform="rotate(12 219.3 415.1)"/>
<ellipse cx="319.2" cy="417.2" rx="2.7" ry="0.8" fill="#c99a2a" stroke="#140c02" stroke-width="0.55" transform="rotate(-1 319.2 417.2)"/>
<ellipse cx="266.7" cy="417.7" rx="3.2" ry="1.1" fill="#b4781c" stroke="#140c02" stroke-width="0.55" transform="rotate(-3 266.7 417.7)"/>
<ellipse cx="386.7" cy="419.3" rx="2.0" ry="1.0" fill="#f3dc78" stroke="#140c02" stroke-width="0.55" transform="rotate(-5 386.7 419.3)"/>
<ellipse cx="449.2" cy="415.1" rx="2.3" ry="1.2" fill="#e8c24a" stroke="#140c02" stroke-width="0.55" transform="rotate(12 449.2 415.1)"/>
<ellipse cx="573.4" cy="418.4" rx="3.2" ry="0.9" fill="#8b4a1f" stroke="#140c02" stroke-width="0.55" transform="rotate(7 573.4 418.4)"/>
<ellipse cx="489.5" cy="419.2" rx="2.1" ry="1.3" fill="#e8c24a" stroke="#140c02" stroke-width="0.55" transform="rotate(-14 489.5 419.2)"/>
<ellipse cx="472.3" cy="417.5" rx="2.7" ry="1.0" fill="#f0d060" stroke="#140c02" stroke-width="0.55" transform="rotate(3 472.3 417.5)"/>
<ellipse cx="382.1" cy="417.2" rx="2.1" ry="0.9" fill="#f3dc78" stroke="#140c02" stroke-width="0.55" transform="rotate(-3 382.1 417.2)"/>
<ellipse cx="475.3" cy="424.1" rx="2.5" ry="1.3" fill="#f7e9a0" stroke="#140c02" stroke-width="0.55" transform="rotate(8 475.3 424.1)"/>
<ellipse cx="323.7" cy="417.8" rx="2.3" ry="1.2" fill="#f7e9a0" stroke="#140c02" stroke-width="0.55" transform="rotate(-14 323.7 417.8)"/>
<ellipse cx="280.3" cy="414.2" rx="2.5" ry="0.8" fill="#8b4a1f" stroke="#140c02" stroke-width="0.55" transform="rotate(-8 280.3 414.2)"/>
<ellipse cx="592.7" cy="423.1" rx="2.3" ry="0.8" fill="#f0d060" stroke="#140c02" stroke-width="0.55" transform="rotate(6 592.7 423.1)"/>
<ellipse cx="502.0" cy="415.1" rx="2.2" ry="0.9" fill="#b4781c" stroke="#140c02" stroke-width="0.55" transform="rotate(-12 502.0 415.1)"/>
<ellipse cx="246.3" cy="425.5" rx="2.6" ry="1.3" fill="#b4781c" stroke="#140c02" stroke-width="0.55" transform="rotate(-4 246.3 425.5)"/>
<ellipse cx="335.9" cy="418.6" rx="2.2" ry="0.8" fill="#2a1804" stroke="#140c02" stroke-width="0.55" transform="rotate(-9 335.9 418.6)"/>
<ellipse cx="486.6" cy="419.6" rx="2.9" ry="1.0" fill="#f3dc78" stroke="#140c02" stroke-width="0.55" transform="rotate(-7 486.6 419.6)"/>
<ellipse cx="224.8" cy="422.6" rx="3.1" ry="1.1" fill="#2a1804" stroke="#140c02" stroke-width="0.55" transform="rotate(-3 224.8 422.6)"/>
<ellipse cx="428.8" cy="417.1" rx="2.8" ry="0.8" fill="#f3dc78" stroke="#140c02" stroke-width="0.55" transform="rotate(-10 428.8 417.1)"/>
<ellipse cx="495.1" cy="424.7" rx="2.3" ry="1.3" fill="#e8c24a" stroke="#140c02" stroke-width="0.55" transform="rotate(-0 495.1 424.7)"/>
<ellipse cx="532.8" cy="422.6" rx="3.1" ry="1.1" fill="#f7e9a0" stroke="#140c02" stroke-width="0.55" transform="rotate(-4 532.8 422.6)"/>
<ellipse cx="308.5" cy="416.3" rx="2.6" ry="1.0" fill="#2a1804" stroke="#140c02" stroke-width="0.55" transform="rotate(5 308.5 416.3)"/>
<ellipse cx="436.2" cy="416.1" rx="2.6" ry="0.8" fill="#f3dc78" stroke="#140c02" stroke-width="0.55" transform="rotate(-7 436.2 416.1)"/>
<ellipse cx="353.9" cy="421.4" rx="2.2" ry="1.2" fill="#f0d060" stroke="#140c02" stroke-width="0.55" transform="rotate(-8 353.9 421.4)"/>
<ellipse cx="566.0" cy="415.2" rx="2.7" ry="1.2" fill="#f7e9a0" stroke="#140c02" stroke-width="0.55" transform="rotate(3 566.0 415.2)"/>
<ellipse cx="290.4" cy="419.0" rx="2.8" ry="0.8" fill="#e8c24a" stroke="#140c02" stroke-width="0.55" transform="rotate(-9 290.4 419.0)"/>
<ellipse cx="386.5" cy="420.2" rx="2.7" ry="1.1" fill="#f3dc78" stroke="#140c02" stroke-width="0.55" transform="rotate(2 386.5 420.2)"/>
<ellipse cx="575.3" cy="425.5" rx="2.2" ry="1.1" fill="#f3dc78" stroke="#140c02" stroke-width="0.55" transform="rotate(3 575.3 425.5)"/>
<ellipse cx="461.2" cy="417.5" rx="3.0" ry="1.2" fill="#e8c24a" stroke="#140c02" stroke-width="0.55" transform="rotate(3 461.2 417.5)"/>
<ellipse cx="335.9" cy="416.1" rx="2.6" ry="0.9" fill="#a8551f" stroke="#140c02" stroke-width="0.55" transform="rotate(-11 335.9 416.1)"/>
<ellipse cx="569.0" cy="414.0" rx="2.1" ry="1.1" fill="#8b4a1f" stroke="#140c02" stroke-width="0.55" transform="rotate(-8 569.0 414.0)"/>
<ellipse cx="485.3" cy="417.1" rx="1.9" ry="1.0" fill="#e8c24a" stroke="#140c02" stroke-width="0.55" transform="rotate(5 485.3 417.1)"/>
<ellipse cx="449.2" cy="414.0" rx="3.1" ry="1.2" fill="#f0d060" stroke="#140c02" stroke-width="0.55" transform="rotate(-3 449.2 414.0)"/>
<ellipse cx="521.4" cy="414.6" rx="2.5" ry="0.9" fill="#c99a2a" stroke="#140c02" stroke-width="0.55" transform="rotate(5 521.4 414.6)"/>
<ellipse cx="487.0" cy="419.4" rx="1.9" ry="1.3" fill="#a8551f" stroke="#140c02" stroke-width="0.55" transform="rotate(-3 487.0 419.4)"/>
<ellipse cx="438.7" cy="416.2" rx="2.7" ry="1.0" fill="#2a1804" stroke="#140c02" stroke-width="0.55" transform="rotate(5 438.7 416.2)"/>
<ellipse cx="347.9" cy="421.1" rx="2.7" ry="0.9" fill="#f7e9a0" stroke="#140c02" stroke-width="0.55" transform="rotate(-3 347.9 421.1)"/>
<ellipse cx="528.4" cy="423.9" rx="2.6" ry="1.2" fill="#f0d060" stroke="#140c02" stroke-width="0.55" transform="rotate(4 528.4 423.9)"/>
<ellipse cx="314.5" cy="425.4" rx="2.5" ry="1.1" fill="#c99a2a" stroke="#140c02" stroke-width="0.55" transform="rotate(6 314.5 425.4)"/>
<ellipse cx="504.5" cy="419.3" rx="2.4" ry="1.1" fill="#8b4a1f" stroke="#140c02" stroke-width="0.55" transform="rotate(14 504.5 419.3)"/>
<ellipse cx="330.6" cy="422.2" rx="1.9" ry="1.2" fill="#f0d060" stroke="#140c02" stroke-width="0.55" transform="rotate(4 330.6 422.2)"/>
<ellipse cx="415.6" cy="423.1" rx="2.0" ry="1.0" fill="#f7e9a0" stroke="#140c02" stroke-width="0.55" transform="rotate(3 415.6 423.1)"/>
<ellipse cx="478.3" cy="425.1" rx="1.9" ry="1.2" fill="#2a1804" stroke="#140c02" stroke-width="0.55" transform="rotate(10 478.3 425.1)"/>
<ellipse cx="376.8" cy="416.0" rx="2.9" ry="1.0" fill="#f3dc78" stroke="#140c02" stroke-width="0.55" transform="rotate(8 376.8 416.0)"/>
<ellipse cx="412.5" cy="421.7" rx="2.9" ry="1.0" fill="#f7e9a0" stroke="#140c02" stroke-width="0.55" transform="rotate(-8 412.5 421.7)"/>
<ellipse cx="267.5" cy="419.8" rx="3.1" ry="1.0" fill="#f7e9a0" stroke="#140c02" stroke-width="0.55" transform="rotate(8 267.5 419.8)"/>
<ellipse cx="434.5" cy="413.9" rx="2.1" ry="1.1" fill="#f3dc78" stroke="#140c02" stroke-width="0.55" transform="rotate(-7 434.5 413.9)"/>
<ellipse cx="585.9" cy="416.5" rx="2.1" ry="1.1" fill="#f7e9a0" stroke="#140c02" stroke-width="0.55" transform="rotate(2 585.9 416.5)"/>
<ellipse cx="556.2" cy="419.4" rx="2.4" ry="0.9" fill="#e8c24a" stroke="#140c02" stroke-width="0.55" transform="rotate(-2 556.2 419.4)"/>
<ellipse cx="326.9" cy="423.1" rx="2.2" ry="1.2" fill="#f0d060" stroke="#140c02" stroke-width="0.55" transform="rotate(12 326.9 423.1)"/>
<ellipse cx="342.6" cy="416.7" rx="1.9" ry="1.1" fill="#e8c24a" stroke="#140c02" stroke-width="0.55" transform="rotate(-7 342.6 416.7)"/>
<ellipse cx="412.4" cy="421.2" rx="2.0" ry="1.2" fill="#f3dc78" stroke="#140c02" stroke-width="0.55" transform="rotate(-11 412.4 421.2)"/>
<ellipse cx="376.1" cy="422.8" rx="3.1" ry="0.9" fill="#a8551f" stroke="#140c02" stroke-width="0.55" transform="rotate(-5 376.1 422.8)"/>
<ellipse cx="275.6" cy="418.9" rx="2.4" ry="0.8" fill="#f7e9a0" stroke="#140c02" stroke-width="0.55" transform="rotate(-7 275.6 418.9)"/>
<ellipse cx="592.6" cy="422.3" rx="1.9" ry="0.8" fill="#b4781c" stroke="#140c02" stroke-width="0.55" transform="rotate(-5 592.6 422.3)"/>
<ellipse cx="423.8" cy="415.4" rx="3.1" ry="0.9" fill="#b4781c" stroke="#140c02" stroke-width="0.55" transform="rotate(14 423.8 415.4)"/>
<ellipse cx="421.4" cy="417.4" rx="2.4" ry="1.3" fill="#f3dc78" stroke="#140c02" stroke-width="0.55" transform="rotate(-14 421.4 417.4)"/>
<ellipse cx="392.1" cy="422.5" rx="1.9" ry="1.1" fill="#8b4a1f" stroke="#140c02" stroke-width="0.55" transform="rotate(-12 392.1 422.5)"/>
<ellipse cx="593.8" cy="415.1" rx="2.1" ry="1.3" fill="#f7e9a0" stroke="#140c02" stroke-width="0.55" transform="rotate(3 593.8 415.1)"/>
<ellipse cx="409.3" cy="421.7" rx="2.5" ry="1.1" fill="#f7e9a0" stroke="#140c02" stroke-width="0.55" transform="rotate(-8 409.3 421.7)"/>
<ellipse cx="483.0" cy="414.1" rx="2.4" ry="0.8" fill="#f7e9a0" stroke="#140c02" stroke-width="0.55" transform="rotate(5 483.0 414.1)"/>
<ellipse cx="335.9" cy="416.6" rx="3.1" ry="0.9" fill="#e8c24a" stroke="#140c02" stroke-width="0.55" transform="rotate(-8 335.9 416.6)"/>
<ellipse cx="395.3" cy="416.8" rx="1.9" ry="1.2" fill="#e8c24a" stroke="#140c02" stroke-width="0.55" transform="rotate(2 395.3 416.8)"/>
<ellipse cx="317.8" cy="422.2" rx="2.7" ry="1.0" fill="#f3dc78" stroke="#140c02" stroke-width="0.55" transform="rotate(-13 317.8 422.2)"/>
<ellipse cx="271.2" cy="416.5" rx="3.0" ry="1.1" fill="#a8551f" stroke="#140c02" stroke-width="0.55" transform="rotate(-8 271.2 416.5)"/>
<ellipse cx="295.4" cy="414.6" rx="2.4" ry="0.9" fill="#a8551f" stroke="#140c02" stroke-width="0.55" transform="rotate(12 295.4 414.6)"/>
<ellipse cx="584.6" cy="421.4" rx="2.9" ry="0.9" fill="#f7e9a0" stroke="#140c02" stroke-width="0.55" transform="rotate(13 584.6 421.4)"/>
<ellipse cx="544.0" cy="419.5" rx="2.2" ry="1.3" fill="#8b4a1f" stroke="#140c02" stroke-width="0.55" transform="rotate(-5 544.0 419.5)"/>
<ellipse cx="567.2" cy="423.7" rx="2.1" ry="1.1" fill="#b4781c" stroke="#140c02" stroke-width="0.55" transform="rotate(4 567.2 423.7)"/>
<ellipse cx="349.2" cy="417.4" rx="1.9" ry="1.0" fill="#a8551f" stroke="#140c02" stroke-width="0.55" transform="rotate(-4 349.2 417.4)"/>
<ellipse cx="270.4" cy="416.5" rx="2.4" ry="1.1" fill="#a8551f" stroke="#140c02" stroke-width="0.55" transform="rotate(-2 270.4 416.5)"/>
<ellipse cx="532.4" cy="416.4" rx="2.9" ry="1.3" fill="#f0d060" stroke="#140c02" stroke-width="0.55" transform="rotate(-13 532.4 416.4)"/>
<ellipse cx="549.9" cy="414.9" rx="3.1" ry="1.0" fill="#f0d060" stroke="#140c02" stroke-width="0.55" transform="rotate(1 549.9 414.9)"/>
<ellipse cx="552.8" cy="421.7" rx="2.4" ry="0.9" fill="#f3dc78" stroke="#140c02" stroke-width="0.55" transform="rotate(-8 552.8 421.7)"/>
<ellipse cx="247.4" cy="414.2" rx="3.1" ry="1.0" fill="#e8c24a" stroke="#140c02" stroke-width="0.55" transform="rotate(-2 247.4 414.2)"/>
<ellipse cx="312.9" cy="423.0" rx="2.3" ry="0.9" fill="#8b4a1f" stroke="#140c02" stroke-width="0.55" transform="rotate(11 312.9 423.0)"/>
<ellipse cx="555.0" cy="422.7" rx="2.1" ry="1.1" fill="#e8c24a" stroke="#140c02" stroke-width="0.55" transform="rotate(-4 555.0 422.7)"/>
<ellipse cx="320.4" cy="417.4" rx="2.3" ry="1.1" fill="#f7e9a0" stroke="#140c02" stroke-width="0.55" transform="rotate(7 320.4 417.4)"/>
<ellipse cx="268.4" cy="416.1" rx="2.4" ry="1.2" fill="#c99a2a" stroke="#140c02" stroke-width="0.55" transform="rotate(12 268.4 416.1)"/>
<ellipse cx="448.0" cy="420.8" rx="2.9" ry="1.1" fill="#2a1804" stroke="#140c02" stroke-width="0.55" transform="rotate(-11 448.0 420.8)"/>
<ellipse cx="500.6" cy="419.9" rx="2.8" ry="1.0" fill="#b4781c" stroke="#140c02" stroke-width="0.55" transform="rotate(-7 500.6 419.9)"/>
<ellipse cx="213.3" cy="414.1" rx="2.6" ry="1.3" fill="#f7e9a0" stroke="#140c02" stroke-width="0.55" transform="rotate(5 213.3 414.1)"/>
<ellipse cx="553.7" cy="415.1" rx="2.1" ry="1.3" fill="#a8551f" stroke="#140c02" stroke-width="0.55" transform="rotate(-9 553.7 415.1)"/>
<ellipse cx="431.8" cy="421.4" rx="2.8" ry="0.9" fill="#e8c24a" stroke="#140c02" stroke-width="0.55" transform="rotate(-3 431.8 421.4)"/>
<ellipse cx="266.4" cy="420.9" rx="2.2" ry="1.1" fill="#8b4a1f" stroke="#140c02" stroke-width="0.55" transform="rotate(7 266.4 420.9)"/>
<ellipse cx="329.9" cy="416.9" rx="1.8" ry="0.9" fill="#e8c24a" stroke="#140c02" stroke-width="0.55" transform="rotate(-3 329.9 416.9)"/>
<ellipse cx="442.7" cy="423.0" rx="2.2" ry="0.8" fill="#f0d060" stroke="#140c02" stroke-width="0.55" transform="rotate(-11 442.7 423.0)"/>
<ellipse cx="432.3" cy="420.9" rx="2.7" ry="1.2" fill="#f7e9a0" stroke="#140c02" stroke-width="0.55" transform="rotate(14 432.3 420.9)"/>
<ellipse cx="398.6" cy="418.8" rx="2.6" ry="1.0" fill="#8b4a1f" stroke="#140c02" stroke-width="0.55" transform="rotate(4 398.6 418.8)"/>
<ellipse cx="304.4" cy="423.8" rx="2.9" ry="1.1" fill="#a8551f" stroke="#140c02" stroke-width="0.55" transform="rotate(-9 304.4 423.8)"/>
<ellipse cx="576.1" cy="422.2" rx="2.0" ry="1.2" fill="#8b4a1f" stroke="#140c02" stroke-width="0.55" transform="rotate(-4 576.1 422.2)"/>
<ellipse cx="253.7" cy="423.4" rx="2.1" ry="0.8" fill="#b4781c" stroke="#140c02" stroke-width="0.55" transform="rotate(-11 253.7 423.4)"/>
<ellipse cx="379.4" cy="414.7" rx="2.4" ry="0.8" fill="#f7e9a0" stroke="#140c02" stroke-width="0.55" transform="rotate(7 379.4 414.7)"/>
<ellipse cx="242.3" cy="419.9" rx="2.6" ry="1.3" fill="#f0d060" stroke="#140c02" stroke-width="0.55" transform="rotate(-8 242.3 419.9)"/>
<ellipse cx="491.0" cy="418.9" rx="2.5" ry="0.9" fill="#f7e9a0" stroke="#140c02" stroke-width="0.55" transform="rotate(-10 491.0 418.9)"/>
<ellipse cx="393.9" cy="418.1" rx="2.6" ry="1.0" fill="#f7e9a0" stroke="#140c02" stroke-width="0.55" transform="rotate(4 393.9 418.1)"/>
<ellipse cx="450.4" cy="418.6" rx="2.0" ry="0.8" fill="#e8c24a" stroke="#140c02" stroke-width="0.55" transform="rotate(7 450.4 418.6)"/>
<ellipse cx="366.7" cy="425.5" rx="2.8" ry="1.1" fill="#f7e9a0" stroke="#140c02" stroke-width="0.55" transform="rotate(-0 366.7 425.5)"/>
<ellipse cx="524.6" cy="417.7" rx="2.5" ry="1.3" fill="#e8c24a" stroke="#140c02" stroke-width="0.55" transform="rotate(13 524.6 417.7)"/>
<ellipse cx="250.3" cy="422.3" rx="2.8" ry="1.1" fill="#a8551f" stroke="#140c02" stroke-width="0.55" transform="rotate(-13 250.3 422.3)"/>
<ellipse cx="467.4" cy="422.3" rx="3.1" ry="1.0" fill="#8b4a1f" stroke="#140c02" stroke-width="0.55" transform="rotate(5 467.4 422.3)"/>
<ellipse cx="455.9" cy="425.5" rx="2.2" ry="0.8" fill="#e8c24a" stroke="#140c02" stroke-width="0.55" transform="rotate(-12 455.9 425.5)"/>
<ellipse cx="231.5" cy="421.7" rx="2.0" ry="0.9" fill="#a8551f" stroke="#140c02" stroke-width="0.55" transform="rotate(13 231.5 421.7)"/>
<ellipse cx="399.4" cy="422.7" rx="2.3" ry="1.1" fill="#e8c24a" stroke="#140c02" stroke-width="0.55" transform="rotate(-9 399.4 422.7)"/>
<ellipse cx="596.8" cy="414.8" rx="3.0" ry="1.1" fill="#f7e9a0" stroke="#140c02" stroke-width="0.55" transform="rotate(-7 596.8 414.8)"/>
<ellipse cx="490.8" cy="424.5" rx="2.3" ry="1.2" fill="#f7e9a0" stroke="#140c02" stroke-width="0.55" transform="rotate(-5 490.8 424.5)"/>
<ellipse cx="253.0" cy="420.9" rx="2.1" ry="1.1" fill="#f3dc78" stroke="#140c02" stroke-width="0.55" transform="rotate(-13 253.0 420.9)"/>
<ellipse cx="203.5" cy="418.2" rx="2.5" ry="1.0" fill="#e8c24a" stroke="#140c02" stroke-width="0.55" transform="rotate(-1 203.5 418.2)"/>
<ellipse cx="233.8" cy="424.1" rx="2.6" ry="1.1" fill="#f0d060" stroke="#140c02" stroke-width="0.55" transform="rotate(8 233.8 424.1)"/>
<ellipse cx="430.0" cy="421.3" rx="2.3" ry="1.3" fill="#f7e9a0" stroke="#140c02" stroke-width="0.55" transform="rotate(9 430.0 421.3)"/>
<ellipse cx="389.7" cy="424.4" rx="2.6" ry="0.9" fill="#f3dc78" stroke="#140c02" stroke-width="0.55" transform="rotate(-1 389.7 424.4)"/>
<ellipse cx="213.1" cy="416.6" rx="2.0" ry="1.2" fill="#e8c24a" stroke="#140c02" stroke-width="0.55" transform="rotate(6 213.1 416.6)"/>
<ellipse cx="388.3" cy="417.0" rx="3.2" ry="1.1" fill="#e8c24a" stroke="#140c02" stroke-width="0.55" transform="rotate(2 388.3 417.0)"/>
<ellipse cx="295.9" cy="416.1" rx="3.0" ry="0.9" fill="#f0d060" stroke="#140c02" stroke-width="0.55" transform="rotate(3 295.9 416.1)"/>
<ellipse cx="449.4" cy="414.0" rx="3.1" ry="1.0" fill="#e8c24a" stroke="#140c02" stroke-width="0.55" transform="rotate(-14 449.4 414.0)"/>
<ellipse cx="210.6" cy="422.6" rx="2.0" ry="1.3" fill="#f0d060" stroke="#140c02" stroke-width="0.55" transform="rotate(-7 210.6 422.6)"/>
<ellipse cx="338.1" cy="415.1" rx="2.2" ry="0.9" fill="#e8c24a" stroke="#140c02" stroke-width="0.55" transform="rotate(4 338.1 415.1)"/>
<ellipse cx="416.1" cy="421.6" rx="2.1" ry="1.0" fill="#e8c24a" stroke="#140c02" stroke-width="0.55" transform="rotate(-9 416.1 421.6)"/>
<ellipse cx="301.4" cy="417.8" rx="3.2" ry="1.3" fill="#f0d060" stroke="#140c02" stroke-width="0.55" transform="rotate(1 301.4 417.8)"/>
<ellipse cx="595.3" cy="423.2" rx="3.1" ry="1.3" fill="#f3dc78" stroke="#140c02" stroke-width="0.55" transform="rotate(-11 595.3 423.2)"/>
<ellipse cx="252.4" cy="422.5" rx="2.2" ry="1.2" fill="#e8c24a" stroke="#140c02" stroke-width="0.55" transform="rotate(12 252.4 422.5)"/>
<ellipse cx="569.3" cy="416.5" rx="2.9" ry="0.9" fill="#8b4a1f" stroke="#140c02" stroke-width="0.55" transform="rotate(-9 569.3 416.5)"/>
<ellipse cx="266.6" cy="423.7" rx="2.3" ry="1.2" fill="#f7e9a0" stroke="#140c02" stroke-width="0.55" transform="rotate(6 266.6 423.7)"/>
<ellipse cx="372.0" cy="414.2" rx="2.3" ry="0.9" fill="#e8c24a" stroke="#140c02" stroke-width="0.55" transform="rotate(-11 372.0 414.2)"/>
<ellipse cx="552.1" cy="422.2" rx="3.0" ry="1.3" fill="#b4781c" stroke="#140c02" stroke-width="0.55" transform="rotate(5 552.1 422.2)"/>
<ellipse cx="473.5" cy="420.9" rx="2.9" ry="1.0" fill="#e8c24a" stroke="#140c02" stroke-width="0.55" transform="rotate(-0 473.5 420.9)"/>
<ellipse cx="573.2" cy="420.3" rx="2.8" ry="1.2" fill="#f7e9a0" stroke="#140c02" stroke-width="0.55" transform="rotate(2 573.2 420.3)"/>
<ellipse cx="528.1" cy="416.3" rx="3.2" ry="1.3" fill="#c99a2a" stroke="#140c02" stroke-width="0.55" transform="rotate(-13 528.1 416.3)"/>
<ellipse cx="231.7" cy="417.8" rx="2.6" ry="0.9" fill="#e8c24a" stroke="#140c02" stroke-width="0.55" transform="rotate(-11 231.7 417.8)"/>
<ellipse cx="301.5" cy="415.3" rx="3.2" ry="0.8" fill="#f0d060" stroke="#140c02" stroke-width="0.55" transform="rotate(-12 301.5 415.3)"/>
<ellipse cx="349.3" cy="414.6" rx="2.7" ry="1.2" fill="#a8551f" stroke="#140c02" stroke-width="0.55" transform="rotate(6 349.3 414.6)"/>
<ellipse cx="490.9" cy="417.0" rx="2.0" ry="0.9" fill="#c99a2a" stroke="#140c02" stroke-width="0.55" transform="rotate(14 490.9 417.0)"/>
<ellipse cx="377.4" cy="416.7" rx="3.1" ry="0.9" fill="#f7e9a0" stroke="#140c02" stroke-width="0.55" transform="rotate(13 377.4 416.7)"/>
<ellipse cx="348.0" cy="423.7" rx="2.1" ry="1.0" fill="#a8551f" stroke="#140c02" stroke-width="0.55" transform="rotate(-1 348.0 423.7)"/>
<ellipse cx="368.5" cy="424.7" rx="2.0" ry="1.1" fill="#f7e9a0" stroke="#140c02" stroke-width="0.55" transform="rotate(-12 368.5 424.7)"/>
<ellipse cx="334.0" cy="421.7" rx="2.8" ry="1.1" fill="#f3dc78" stroke="#140c02" stroke-width="0.55" transform="rotate(3 334.0 421.7)"/>
<ellipse cx="542.9" cy="421.0" rx="2.6" ry="1.1" fill="#f3dc78" stroke="#140c02" stroke-width="0.55" transform="rotate(-9 542.9 421.0)"/>
<ellipse cx="415.9" cy="419.7" rx="1.8" ry="1.0" fill="#f0d060" stroke="#140c02" stroke-width="0.55" transform="rotate(-12 415.9 419.7)"/>
<ellipse cx="333.8" cy="415.6" rx="2.4" ry="0.8" fill="#f7e9a0" stroke="#140c02" stroke-width="0.55" transform="rotate(-10 333.8 415.6)"/>
<ellipse cx="242.3" cy="422.9" rx="3.0" ry="1.0" fill="#e8c24a" stroke="#140c02" stroke-width="0.55" transform="rotate(1 242.3 422.9)"/>
<ellipse cx="424.4" cy="421.7" rx="2.7" ry="0.9" fill="#f0d060" stroke="#140c02" stroke-width="0.55" transform="rotate(11 424.4 421.7)"/>
<ellipse cx="479.7" cy="415.9" rx="2.5" ry="1.0" fill="#c99a2a" stroke="#140c02" stroke-width="0.55" transform="rotate(-7 479.7 415.9)"/>
<ellipse cx="272.4" cy="425.1" rx="3.0" ry="0.9" fill="#f3dc78" stroke="#140c02" stroke-width="0.55" transform="rotate(8 272.4 425.1)"/>
<ellipse cx="435.7" cy="413.8" rx="3.2" ry="0.9" fill="#e8c24a" stroke="#140c02" stroke-width="0.55" transform="rotate(6 435.7 413.8)"/>
<ellipse cx="359.2" cy="425.6" rx="2.7" ry="1.2" fill="#f7e9a0" stroke="#140c02" stroke-width="0.55" transform="rotate(-14 359.2 425.6)"/>
<ellipse cx="453.3" cy="416.8" rx="3.1" ry="1.2" fill="#f0d060" stroke="#140c02" stroke-width="0.55" transform="rotate(-1 453.3 416.8)"/>
<ellipse cx="334.4" cy="415.7" rx="2.8" ry="1.3" fill="#a8551f" stroke="#140c02" stroke-width="0.55" transform="rotate(8 334.4 415.7)"/>
<ellipse cx="484.8" cy="419.0" rx="2.8" ry="1.0" fill="#f7e9a0" stroke="#140c02" stroke-width="0.55" transform="rotate(-1 484.8 419.0)"/>
<ellipse cx="433.7" cy="422.3" rx="2.8" ry="1.3" fill="#e8c24a" stroke="#140c02" stroke-width="0.55" transform="rotate(-10 433.7 422.3)"/>
<ellipse cx="244.5" cy="421.9" rx="3.0" ry="0.9" fill="#c99a2a" stroke="#140c02" stroke-width="0.55" transform="rotate(12 244.5 421.9)"/>
<ellipse cx="541.3" cy="421.8" rx="2.4" ry="1.0" fill="#8b4a1f" stroke="#140c02" stroke-width="0.55" transform="rotate(-3 541.3 421.8)"/>
<ellipse cx="386.4" cy="417.6" rx="1.8" ry="1.3" fill="#8b4a1f" stroke="#140c02" stroke-width="0.55" transform="rotate(8 386.4 417.6)"/>
<ellipse cx="214.3" cy="423.8" rx="2.3" ry="1.2" fill="#e8c24a" stroke="#140c02" stroke-width="0.55" transform="rotate(12 214.3 423.8)"/>
<ellipse cx="230.8" cy="421.2" rx="2.1" ry="0.8" fill="#c99a2a" stroke="#140c02" stroke-width="0.55" transform="rotate(2 230.8 421.2)"/>
<ellipse cx="440.0" cy="423.5" rx="2.1" ry="1.2" fill="#8b4a1f" stroke="#140c02" stroke-width="0.55" transform="rotate(-3 440.0 423.5)"/>
<ellipse cx="274.9" cy="423.3" rx="3.0" ry="1.3" fill="#f7e9a0" stroke="#140c02" stroke-width="0.55" transform="rotate(-8 274.9 423.3)"/>
<ellipse cx="411.8" cy="414.7" rx="2.7" ry="1.0" fill="#e8c24a" stroke="#140c02" stroke-width="0.55" transform="rotate(10 411.8 414.7)"/>
<ellipse cx="258.5" cy="416.9" rx="2.8" ry="0.9" fill="#b4781c" stroke="#140c02" stroke-width="0.55" transform="rotate(5 258.5 416.9)"/>
<ellipse cx="445.5" cy="418.2" rx="1.9" ry="0.9" fill="#f7e9a0" stroke="#140c02" stroke-width="0.55" transform="rotate(5 445.5 418.2)"/>
<ellipse cx="430.7" cy="424.1" rx="1.8" ry="1.0" fill="#f0d060" stroke="#140c02" stroke-width="0.55" transform="rotate(-10 430.7 424.1)"/>
<ellipse cx="587.3" cy="417.8" rx="2.1" ry="1.2" fill="#2a1804" stroke="#140c02" stroke-width="0.55" transform="rotate(10 587.3 417.8)"/>
<ellipse cx="299.3" cy="417.4" rx="3.2" ry="1.1" fill="#8b4a1f" stroke="#140c02" stroke-width="0.55" transform="rotate(4 299.3 417.4)"/>
<ellipse cx="469.1" cy="423.4" rx="2.6" ry="1.0" fill="#b4781c" stroke="#140c02" stroke-width="0.55" transform="rotate(12 469.1 423.4)"/>
<ellipse cx="581.8" cy="421.7" rx="2.9" ry="1.1" fill="#e8c24a" stroke="#140c02" stroke-width="0.55" transform="rotate(-10 581.8 421.7)"/>
<ellipse cx="516.0" cy="416.3" rx="1.8" ry="1.0" fill="#2a1804" stroke="#140c02" stroke-width="0.55" transform="rotate(13 516.0 416.3)"/>
<ellipse cx="535.2" cy="419.9" rx="3.1" ry="0.8" fill="#c99a2a" stroke="#140c02" stroke-width="0.55" transform="rotate(-6 535.2 419.9)"/>
<ellipse cx="324.9" cy="419.0" rx="2.0" ry="0.9" fill="#f3dc78" stroke="#140c02" stroke-width="0.55" transform="rotate(-14 324.9 419.0)"/>
<ellipse cx="336.9" cy="422.4" rx="2.6" ry="0.9" fill="#8b4a1f" stroke="#140c02" stroke-width="0.55" transform="rotate(3 336.9 422.4)"/>
<ellipse cx="359.9" cy="424.5" rx="3.1" ry="1.2" fill="#2a1804" stroke="#140c02" stroke-width="0.55" transform="rotate(-11 359.9 424.5)"/>
<ellipse cx="282.9" cy="423.0" rx="2.3" ry="0.8" fill="#a8551f" stroke="#140c02" stroke-width="0.55" transform="rotate(-8 282.9 423.0)"/>
<ellipse cx="427.1" cy="414.8" rx="2.0" ry="1.2" fill="#e8c24a" stroke="#140c02" stroke-width="0.55" transform="rotate(9 427.1 414.8)"/>
<ellipse cx="322.3" cy="418.3" rx="3.1" ry="0.8" fill="#b4781c" stroke="#140c02" stroke-width="0.55" transform="rotate(10 322.3 418.3)"/>
<ellipse cx="274.2" cy="417.2" rx="3.0" ry="1.3" fill="#f0d060" stroke="#140c02" stroke-width="0.55" transform="rotate(-7 274.2 417.2)"/>
<ellipse cx="281.1" cy="419.0" rx="2.1" ry="1.1" fill="#f0d060" stroke="#140c02" stroke-width="0.55" transform="rotate(3 281.1 419.0)"/>
<ellipse cx="430.3" cy="423.1" rx="3.1" ry="0.9" fill="#a8551f" stroke="#140c02" stroke-width="0.55" transform="rotate(-8 430.3 423.1)"/>
<ellipse cx="540.4" cy="420.8" rx="2.0" ry="1.2" fill="#2a1804" stroke="#140c02" stroke-width="0.55" transform="rotate(10 540.4 420.8)"/>
<ellipse cx="526.5" cy="417.4" rx="2.1" ry="1.0" fill="#a8551f" stroke="#140c02" stroke-width="0.55" transform="rotate(12 526.5 417.4)"/>
<ellipse cx="410.4" cy="414.2" rx="2.1" ry="1.1" fill="#f7e9a0" stroke="#140c02" stroke-width="0.55" transform="rotate(-6 410.4 414.2)"/>
<ellipse cx="519.9" cy="414.5" rx="2.7" ry="1.0" fill="#e8c24a" stroke="#140c02" stroke-width="0.55" transform="rotate(11 519.9 414.5)"/>
<ellipse cx="552.4" cy="423.0" rx="1.9" ry="0.9" fill="#b4781c" stroke="#140c02" stroke-width="0.55" transform="rotate(-9 552.4 423.0)"/>
<ellipse cx="554.8" cy="423.9" rx="3.1" ry="0.9" fill="#f0d060" stroke="#140c02" stroke-width="0.55" transform="rotate(9 554.8 423.9)"/>
<ellipse cx="531.6" cy="418.6" rx="2.3" ry="0.9" fill="#f3dc78" stroke="#140c02" stroke-width="0.55" transform="rotate(-9 531.6 418.6)"/>
<ellipse cx="451.0" cy="422.0" rx="2.0" ry="1.1" fill="#c99a2a" stroke="#140c02" stroke-width="0.55" transform="rotate(8 451.0 422.0)"/>
<ellipse cx="511.4" cy="420.4" rx="3.2" ry="1.0" fill="#f7e9a0" stroke="#140c02" stroke-width="0.55" transform="rotate(-7 511.4 420.4)"/>
<ellipse cx="483.2" cy="422.8" rx="3.1" ry="1.1" fill="#f0d060" stroke="#140c02" stroke-width="0.55" transform="rotate(2 483.2 422.8)"/>
<ellipse cx="474.6" cy="424.1" rx="3.1" ry="0.9" fill="#f7e9a0" stroke="#140c02" stroke-width="0.55" transform="rotate(-2 474.6 424.1)"/>
<ellipse cx="510.1" cy="419.3" rx="2.9" ry="1.1" fill="#f0d060" stroke="#140c02" stroke-width="0.55" transform="rotate(-4 510.1 419.3)"/>
<ellipse cx="476.6" cy="417.0" rx="2.2" ry="1.0" fill="#b4781c" stroke="#140c02" stroke-width="0.55" transform="rotate(-11 476.6 417.0)"/>
<ellipse cx="412.5" cy="422.9" rx="2.9" ry="0.9" fill="#a8551f" stroke="#140c02" stroke-width="0.55" transform="rotate(6 412.5 422.9)"/>
<ellipse cx="248.9" cy="420.2" rx="3.2" ry="1.3" fill="#e8c24a" stroke="#140c02" stroke-width="0.55" transform="rotate(-8 248.9 420.2)"/>
<ellipse cx="220.8" cy="416.0" rx="2.0" ry="1.0" fill="#a8551f" stroke="#140c02" stroke-width="0.55" transform="rotate(-11 220.8 416.0)"/>
<ellipse cx="211.7" cy="425.3" rx="2.3" ry="0.9" fill="#f3dc78" stroke="#140c02" stroke-width="0.55" transform="rotate(-6 211.7 425.3)"/>
<ellipse cx="203.9" cy="421.2" rx="1.9" ry="1.1" fill="#e8c24a" stroke="#140c02" stroke-width="0.55" transform="rotate(-14 203.9 421.2)"/>
<ellipse cx="320.7" cy="422.2" rx="2.0" ry="1.0" fill="#b4781c" stroke="#140c02" stroke-width="0.55" transform="rotate(13 320.7 422.2)"/>
<ellipse cx="327.1" cy="415.2" rx="2.9" ry="1.2" fill="#f0d060" stroke="#140c02" stroke-width="0.55" transform="rotate(-10 327.1 415.2)"/>
<ellipse cx="371.7" cy="416.1" rx="2.5" ry="0.9" fill="#f0d060" stroke="#140c02" stroke-width="0.55" transform="rotate(-1 371.7 416.1)"/>
<ellipse cx="447.1" cy="418.7" rx="2.8" ry="1.1" fill="#e8c24a" stroke="#140c02" stroke-width="0.55" transform="rotate(9 447.1 418.7)"/>
<ellipse cx="402.8" cy="416.1" rx="2.9" ry="1.3" fill="#f7e9a0" stroke="#140c02" stroke-width="0.55" transform="rotate(9 402.8 416.1)"/>
<ellipse cx="278.9" cy="421.3" rx="2.3" ry="1.3" fill="#e8c24a" stroke="#140c02" stroke-width="0.55" transform="rotate(0 278.9 421.3)"/>
<ellipse cx="348.0" cy="419.2" rx="3.1" ry="1.3" fill="#b4781c" stroke="#140c02" stroke-width="0.55" transform="rotate(8 348.0 419.2)"/>
<ellipse cx="474.9" cy="420.1" rx="2.4" ry="1.2" fill="#a8551f" stroke="#140c02" stroke-width="0.55" transform="rotate(-4 474.9 420.1)"/>
<ellipse cx="454.5" cy="416.1" rx="2.7" ry="1.0" fill="#8b4a1f" stroke="#140c02" stroke-width="0.55" transform="rotate(-13 454.5 416.1)"/>
<ellipse cx="312.9" cy="421.3" rx="2.4" ry="0.8" fill="#2a1804" stroke="#140c02" stroke-width="0.55" transform="rotate(2 312.9 421.3)"/>
<ellipse cx="326.0" cy="415.1" rx="2.0" ry="1.2" fill="#2a1804" stroke="#140c02" stroke-width="0.55" transform="rotate(-9 326.0 415.1)"/>
<ellipse cx="327.8" cy="415.4" rx="2.1" ry="0.9" fill="#c99a2a" stroke="#140c02" stroke-width="0.55" transform="rotate(3 327.8 415.4)"/>
<ellipse cx="480.0" cy="414.3" rx="1.8" ry="1.1" fill="#f7e9a0" stroke="#140c02" stroke-width="0.55" transform="rotate(1 480.0 414.3)"/>
<ellipse cx="479.0" cy="422.1" rx="3.0" ry="1.0" fill="#c99a2a" stroke="#140c02" stroke-width="0.55" transform="rotate(-13 479.0 422.1)"/>
<ellipse cx="388.4" cy="414.1" rx="3.1" ry="0.8" fill="#f7e9a0" stroke="#140c02" stroke-width="0.55" transform="rotate(4 388.4 414.1)"/>
<ellipse cx="485.0" cy="418.2" rx="2.3" ry="1.2" fill="#b4781c" stroke="#140c02" stroke-width="0.55" transform="rotate(4 485.0 418.2)"/>
<ellipse cx="289.3" cy="424.1" rx="2.0" ry="1.3" fill="#8b4a1f" stroke="#140c02" stroke-width="0.55" transform="rotate(1 289.3 424.1)"/>
<ellipse cx="463.7" cy="421.3" rx="3.0" ry="1.1" fill="#f3dc78" stroke="#140c02" stroke-width="0.55" transform="rotate(2 463.7 421.3)"/>
<ellipse cx="385.6" cy="416.6" rx="2.9" ry="0.9" fill="#2a1804" stroke="#140c02" stroke-width="0.55" transform="rotate(-9 385.6 416.6)"/>
<ellipse cx="268.3" cy="422.9" rx="2.4" ry="1.0" fill="#c99a2a" stroke="#140c02" stroke-width="0.55" transform="rotate(-7 268.3 422.9)"/>
<ellipse cx="508.6" cy="420.7" rx="2.1" ry="1.0" fill="#f0d060" stroke="#140c02" stroke-width="0.55" transform="rotate(3 508.6 420.7)"/>
<ellipse cx="507.5" cy="418.8" rx="2.4" ry="1.2" fill="#f0d060" stroke="#140c02" stroke-width="0.55" transform="rotate(-8 507.5 418.8)"/>
<ellipse cx="576.2" cy="422.3" rx="3.0" ry="1.0" fill="#f3dc78" stroke="#140c02" stroke-width="0.55" transform="rotate(0 576.2 422.3)"/>
<ellipse cx="531.4" cy="422.3" rx="1.9" ry="1.0" fill="#c99a2a" stroke="#140c02" stroke-width="0.55" transform="rotate(3 531.4 422.3)"/>
<ellipse cx="372.3" cy="419.9" rx="2.8" ry="1.1" fill="#e8c24a" stroke="#140c02" stroke-width="0.55" transform="rotate(12 372.3 419.9)"/>
<ellipse cx="435.3" cy="419.5" rx="2.0" ry="1.1" fill="#f3dc78" stroke="#140c02" stroke-width="0.55" transform="rotate(14 435.3 419.5)"/>
<ellipse cx="334.2" cy="415.6" rx="2.7" ry="1.1" fill="#f3dc78" stroke="#140c02" stroke-width="0.55" transform="rotate(-12 334.2 415.6)"/>
<ellipse cx="507.6" cy="424.3" rx="2.8" ry="0.9" fill="#f3dc78" stroke="#140c02" stroke-width="0.55" transform="rotate(2 507.6 424.3)"/>
<ellipse cx="593.7" cy="424.0" rx="2.8" ry="0.9" fill="#e8c24a" stroke="#140c02" stroke-width="0.55" transform="rotate(6 593.7 424.0)"/>
<ellipse cx="391.6" cy="425.4" rx="3.1" ry="0.9" fill="#a8551f" stroke="#140c02" stroke-width="0.55" transform="rotate(1 391.6 425.4)"/>
<ellipse cx="323.2" cy="424.4" rx="2.6" ry="0.8" fill="#f0d060" stroke="#140c02" stroke-width="0.55" transform="rotate(-4 323.2 424.4)"/>
<ellipse cx="480.4" cy="420.5" rx="2.9" ry="1.2" fill="#e8c24a" stroke="#140c02" stroke-width="0.55" transform="rotate(1 480.4 420.5)"/>
<ellipse cx="558.1" cy="415.9" rx="2.5" ry="0.9" fill="#f3dc78" stroke="#140c02" stroke-width="0.55" transform="rotate(6 558.1 415.9)"/>
<ellipse cx="367.3" cy="418.3" rx="1.9" ry="1.0" fill="#2a1804" stroke="#140c02" stroke-width="0.55" transform="rotate(9 367.3 418.3)"/>
<ellipse cx="218.3" cy="424.1" rx="2.3" ry="1.2" fill="#e8c24a" stroke="#140c02" stroke-width="0.55" transform="rotate(0 218.3 424.1)"/>
<ellipse cx="363.4" cy="415.3" rx="2.3" ry="0.9" fill="#e8c24a" stroke="#140c02" stroke-width="0.55" transform="rotate(-11 363.4 415.3)"/>
<ellipse cx="433.2" cy="424.9" rx="1.9" ry="1.0" fill="#f0d060" stroke="#140c02" stroke-width="0.55" transform="rotate(-4 433.2 424.9)"/>
<ellipse cx="225.5" cy="414.8" rx="3.1" ry="0.9" fill="#f3dc78" stroke="#140c02" stroke-width="0.55" transform="rotate(-12 225.5 414.8)"/>
<ellipse cx="589.3" cy="415.8" rx="2.4" ry="1.2" fill="#e8c24a" stroke="#140c02" stroke-width="0.55" transform="rotate(-13 589.3 415.8)"/>
<ellipse cx="504.2" cy="416.8" rx="2.8" ry="1.1" fill="#f3dc78" stroke="#140c02" stroke-width="0.55" transform="rotate(2 504.2 416.8)"/>
<ellipse cx="438.2" cy="425.0" rx="2.5" ry="0.9" fill="#f3dc78" stroke="#140c02" stroke-width="0.55" transform="rotate(6 438.2 425.0)"/>
<ellipse cx="230.5" cy="422.9" rx="3.1" ry="1.2" fill="#e8c24a" stroke="#140c02" stroke-width="0.55" transform="rotate(11 230.5 422.9)"/>
<ellipse cx="284.6" cy="422.0" rx="2.5" ry="1.0" fill="#f0d060" stroke="#140c02" stroke-width="0.55" transform="rotate(-10 284.6 422.0)"/>
<ellipse cx="418.3" cy="420.1" rx="2.5" ry="1.2" fill="#b4781c" stroke="#140c02" stroke-width="0.55" transform="rotate(6 418.3 420.1)"/>
<ellipse cx="269.0" cy="414.3" rx="2.8" ry="1.1" fill="#2a1804" stroke="#140c02" stroke-width="0.55" transform="rotate(1 269.0 414.3)"/>
<ellipse cx="220.4" cy="415.9" rx="2.1" ry="0.9" fill="#f7e9a0" stroke="#140c02" stroke-width="0.55" transform="rotate(11 220.4 415.9)"/>
<ellipse cx="325.3" cy="416.3" rx="3.1" ry="1.2" fill="#c99a2a" stroke="#140c02" stroke-width="0.55" transform="rotate(-12 325.3 416.3)"/>
<ellipse cx="365.1" cy="424.9" rx="2.5" ry="0.8" fill="#a8551f" stroke="#140c02" stroke-width="0.55" transform="rotate(5 365.1 424.9)"/>
<ellipse cx="533.5" cy="424.6" rx="2.7" ry="1.2" fill="#a8551f" stroke="#140c02" stroke-width="0.55" transform="rotate(-6 533.5 424.6)"/>
<ellipse cx="424.5" cy="415.7" rx="2.5" ry="0.9" fill="#b4781c" stroke="#140c02" stroke-width="0.55" transform="rotate(14 424.5 415.7)"/>
<ellipse cx="447.4" cy="416.3" rx="2.7" ry="1.1" fill="#8b4a1f" stroke="#140c02" stroke-width="0.55" transform="rotate(11 447.4 416.3)"/>
<ellipse cx="327.5" cy="417.1" rx="2.6" ry="1.0" fill="#f7e9a0" stroke="#140c02" stroke-width="0.55" transform="rotate(-7 327.5 417.1)"/>
<ellipse cx="294.0" cy="418.2" rx="2.9" ry="0.9" fill="#f0d060" stroke="#140c02" stroke-width="0.55" transform="rotate(-13 294.0 418.2)"/>
<ellipse cx="205.4" cy="421.9" rx="2.9" ry="1.0" fill="#e8c24a" stroke="#140c02" stroke-width="0.55" transform="rotate(-4 205.4 421.9)"/>
<ellipse cx="559.0" cy="416.9" rx="2.0" ry="1.2" fill="#f7e9a0" stroke="#140c02" stroke-width="0.55" transform="rotate(-6 559.0 416.9)"/>
<ellipse cx="550.5" cy="423.3" rx="2.4" ry="1.2" fill="#f3dc78" stroke="#140c02" stroke-width="0.55" transform="rotate(-13 550.5 423.3)"/>
<ellipse cx="560.2" cy="421.8" rx="2.5" ry="1.0" fill="#2a1804" stroke="#140c02" stroke-width="0.55" transform="rotate(-10 560.2 421.8)"/>
<ellipse cx="397.3" cy="415.6" rx="2.1" ry="1.2" fill="#2a1804" stroke="#140c02" stroke-width="0.55" transform="rotate(11 397.3 415.6)"/>
<ellipse cx="508.7" cy="419.4" rx="2.2" ry="1.2" fill="#f3dc78" stroke="#140c02" stroke-width="0.55" transform="rotate(-2 508.7 419.4)"/>
<ellipse cx="260.7" cy="425.2" rx="2.1" ry="1.0" fill="#f0d060" stroke="#140c02" stroke-width="0.55" transform="rotate(-10 260.7 425.2)"/>
<ellipse cx="471.9" cy="420.5" rx="3.1" ry="0.9" fill="#b4781c" stroke="#140c02" stroke-width="0.55" transform="rotate(6 471.9 420.5)"/>
<ellipse cx="287.1" cy="414.0" rx="3.2" ry="0.9" fill="#f3dc78" stroke="#140c02" stroke-width="0.55" transform="rotate(1 287.1 414.0)"/>
<ellipse cx="344.0" cy="417.7" rx="2.3" ry="1.1" fill="#f7e9a0" stroke="#140c02" stroke-width="0.55" transform="rotate(11 344.0 417.7)"/>
<ellipse cx="575.3" cy="421.7" rx="2.6" ry="0.9" fill="#f3dc78" stroke="#140c02" stroke-width="0.55" transform="rotate(2 575.3 421.7)"/>
<ellipse cx="219.6" cy="424.7" rx="2.6" ry="1.0" fill="#b4781c" stroke="#140c02" stroke-width="0.55" transform="rotate(-3 219.6 424.7)"/>
<ellipse cx="498.1" cy="420.6" rx="2.9" ry="1.0" fill="#b4781c" stroke="#140c02" stroke-width="0.55" transform="rotate(-5 498.1 420.6)"/>
<ellipse cx="535.4" cy="420.3" rx="2.1" ry="0.9" fill="#f0d060" stroke="#140c02" stroke-width="0.55" transform="rotate(10 535.4 420.3)"/>
<ellipse cx="326.0" cy="422.5" rx="2.6" ry="0.8" fill="#f3dc78" stroke="#140c02" stroke-width="0.55" transform="rotate(5 326.0 422.5)"/>
<ellipse cx="436.8" cy="424.2" rx="2.9" ry="0.9" fill="#2a1804" stroke="#140c02" stroke-width="0.55" transform="rotate(-11 436.8 424.2)"/>
<ellipse cx="353.9" cy="422.9" rx="1.9" ry="0.8" fill="#2a1804" stroke="#140c02" stroke-width="0.55" transform="rotate(-6 353.9 422.9)"/>
<ellipse cx="491.0" cy="414.1" rx="3.0" ry="1.2" fill="#8b4a1f" stroke="#140c02" stroke-width="0.55" transform="rotate(-2 491.0 414.1)"/>
<ellipse cx="477.5" cy="422.7" rx="2.1" ry="1.2" fill="#f0d060" stroke="#140c02" stroke-width="0.55" transform="rotate(12 477.5 422.7)"/>
<ellipse cx="513.8" cy="420.0" rx="3.2" ry="1.1" fill="#c99a2a" stroke="#140c02" stroke-width="0.55" transform="rotate(-5 513.8 420.0)"/>
<ellipse cx="272.5" cy="414.9" rx="3.0" ry="1.1" fill="#f7e9a0" stroke="#140c02" stroke-width="0.55" transform="rotate(-10 272.5 414.9)"/>
<ellipse cx="444.2" cy="415.4" rx="1.8" ry="1.2" fill="#e8c24a" stroke="#140c02" stroke-width="0.55" transform="rotate(7 444.2 415.4)"/>
<ellipse cx="594.4" cy="424.9" rx="2.2" ry="1.3" fill="#2a1804" stroke="#140c02" stroke-width="0.55" transform="rotate(-5 594.4 424.9)"/>
<ellipse cx="340.3" cy="422.7" rx="2.5" ry="1.2" fill="#8b4a1f" stroke="#140c02" stroke-width="0.55" transform="rotate(9 340.3 422.7)"/>
<ellipse cx="327.1" cy="421.1" rx="1.8" ry="0.9" fill="#b4781c" stroke="#140c02" stroke-width="0.55" transform="rotate(10 327.1 421.1)"/>
<ellipse cx="426.0" cy="418.8" rx="1.8" ry="0.8" fill="#2a1804" stroke="#140c02" stroke-width="0.55" transform="rotate(-11 426.0 418.8)"/>
<ellipse cx="363.0" cy="424.9" rx="2.5" ry="0.8" fill="#f0d060" stroke="#140c02" stroke-width="0.55" transform="rotate(14 363.0 424.9)"/>
<ellipse cx="234.1" cy="417.1" rx="2.0" ry="1.0" fill="#2a1804" stroke="#140c02" stroke-width="0.55" transform="rotate(8 234.1 417.1)"/>
<ellipse cx="426.5" cy="424.0" rx="2.4" ry="0.8" fill="#f7e9a0" stroke="#140c02" stroke-width="0.55" transform="rotate(5 426.5 424.0)"/>
<ellipse cx="546.4" cy="422.3" rx="1.9" ry="0.8" fill="#a8551f" stroke="#140c02" stroke-width="0.55" transform="rotate(4 546.4 422.3)"/>
<ellipse cx="221.2" cy="424.1" rx="1.8" ry="0.9" fill="#f0d060" stroke="#140c02" stroke-width="0.55" transform="rotate(3 221.2 424.1)"/>
<ellipse cx="243.2" cy="414.1" rx="2.6" ry="1.3" fill="#f3dc78" stroke="#140c02" stroke-width="0.55" transform="rotate(-10 243.2 414.1)"/>
<ellipse cx="289.1" cy="416.1" rx="2.5" ry="0.9" fill="#f3dc78" stroke="#140c02" stroke-width="0.55" transform="rotate(7 289.1 416.1)"/>
<ellipse cx="230.0" cy="425.5" rx="2.7" ry="0.9" fill="#f7e9a0" stroke="#140c02" stroke-width="0.55" transform="rotate(12 230.0 425.5)"/>
<ellipse cx="389.7" cy="425.1" rx="2.8" ry="0.9" fill="#c99a2a" stroke="#140c02" stroke-width="0.55" transform="rotate(-10 389.7 425.1)"/>
<ellipse cx="451.6" cy="417.3" rx="2.7" ry="1.0" fill="#f7e9a0" stroke="#140c02" stroke-width="0.55" transform="rotate(-1 451.6 417.3)"/>
<ellipse cx="363.7" cy="423.8" rx="2.6" ry="1.0" fill="#f3dc78" stroke="#140c02" stroke-width="0.55" transform="rotate(11 363.7 423.8)"/>
<ellipse cx="290.6" cy="415.0" rx="3.0" ry="0.9" fill="#a8551f" stroke="#140c02" stroke-width="0.55" transform="rotate(-4 290.6 415.0)"/>
<ellipse cx="208.9" cy="423.2" rx="2.3" ry="1.2" fill="#f7e9a0" stroke="#140c02" stroke-width="0.55" transform="rotate(-13 208.9 423.2)"/>
<ellipse cx="565.9" cy="423.6" rx="1.9" ry="0.8" fill="#e8c24a" stroke="#140c02" stroke-width="0.55" transform="rotate(3 565.9 423.6)"/>
<ellipse cx="392.3" cy="419.5" rx="3.2" ry="1.0" fill="#f7e9a0" stroke="#140c02" stroke-width="0.55" transform="rotate(10 392.3 419.5)"/>
<ellipse cx="535.4" cy="424.7" rx="3.1" ry="0.8" fill="#8b4a1f" stroke="#140c02" stroke-width="0.55" transform="rotate(3 535.4 424.7)"/>
<ellipse cx="318.4" cy="418.2" rx="2.6" ry="0.9" fill="#a8551f" stroke="#140c02" stroke-width="0.55" transform="rotate(-4 318.4 418.2)"/>
<ellipse cx="321.2" cy="413.9" rx="2.5" ry="1.2" fill="#c99a2a" stroke="#140c02" stroke-width="0.55" transform="rotate(12 321.2 413.9)"/>
<ellipse cx="548.9" cy="423.3" rx="1.8" ry="0.9" fill="#e8c24a" stroke="#140c02" stroke-width="0.55" transform="rotate(1 548.9 423.3)"/>
<ellipse cx="527.1" cy="415.9" rx="2.3" ry="1.0" fill="#f7e9a0" stroke="#140c02" stroke-width="0.55" transform="rotate(7 527.1 415.9)"/>
<ellipse cx="423.0" cy="423.5" rx="3.2" ry="1.0" fill="#f0d060" stroke="#140c02" stroke-width="0.55" transform="rotate(9 423.0 423.5)"/>
<ellipse cx="590.4" cy="415.1" rx="2.2" ry="1.1" fill="#f3dc78" stroke="#140c02" stroke-width="0.55" transform="rotate(-7 590.4 415.1)"/>
<ellipse cx="416.4" cy="414.6" rx="2.5" ry="0.9" fill="#e8c24a" stroke="#140c02" stroke-width="0.55" transform="rotate(0 416.4 414.6)"/>
<ellipse cx="399.4" cy="416.2" rx="2.8" ry="0.9" fill="#e8c24a" stroke="#140c02" stroke-width="0.55" transform="rotate(3 399.4 416.2)"/>
<ellipse cx="438.6" cy="424.9" rx="3.0" ry="0.8" fill="#e8c24a" stroke="#140c02" stroke-width="0.55" transform="rotate(-2 438.6 424.9)"/>
<ellipse cx="263.5" cy="422.7" rx="3.0" ry="0.9" fill="#f3dc78" stroke="#140c02" stroke-width="0.55" transform="rotate(-4 263.5 422.7)"/>
<ellipse cx="414.3" cy="417.5" rx="2.8" ry="1.1" fill="#f0d060" stroke="#140c02" stroke-width="0.55" transform="rotate(1 414.3 417.5)"/>
<ellipse cx="407.1" cy="414.1" rx="2.0" ry="0.8" fill="#f0d060" stroke="#140c02" stroke-width="0.55" transform="rotate(-10 407.1 414.1)"/>
<ellipse cx="378.8" cy="416.7" rx="2.8" ry="1.2" fill="#f3dc78" stroke="#140c02" stroke-width="0.55" transform="rotate(9 378.8 416.7)"/>
<ellipse cx="295.5" cy="421.0" rx="2.9" ry="0.8" fill="#8b4a1f" stroke="#140c02" stroke-width="0.55" transform="rotate(-0 295.5 421.0)"/>
<ellipse cx="369.2" cy="414.5" rx="1.9" ry="1.1" fill="#2a1804" stroke="#140c02" stroke-width="0.55" transform="rotate(-7 369.2 414.5)"/>
<ellipse cx="219.6" cy="424.0" rx="2.3" ry="1.3" fill="#2a1804" stroke="#140c02" stroke-width="0.55" transform="rotate(11 219.6 424.0)"/>
<ellipse cx="250.8" cy="415.2" rx="2.4" ry="1.1" fill="#f7e9a0" stroke="#140c02" stroke-width="0.55" transform="rotate(3 250.8 415.2)"/>
<ellipse cx="441.1" cy="424.5" rx="1.9" ry="1.2" fill="#f0d060" stroke="#140c02" stroke-width="0.55" transform="rotate(-6 441.1 424.5)"/>
<ellipse cx="485.1" cy="415.1" rx="2.9" ry="1.1" fill="#a8551f" stroke="#140c02" stroke-width="0.55" transform="rotate(13 485.1 415.1)"/>
<ellipse cx="277.5" cy="418.3" rx="2.2" ry="1.0" fill="#f7e9a0" stroke="#140c02" stroke-width="0.55" transform="rotate(-11 277.5 418.3)"/>
<ellipse cx="367.6" cy="424.2" rx="2.9" ry="0.8" fill="#b4781c" stroke="#140c02" stroke-width="0.55" transform="rotate(9 367.6 424.2)"/>
<ellipse cx="205.3" cy="421.9" rx="2.0" ry="1.1" fill="#f7e9a0" stroke="#140c02" stroke-width="0.55" transform="rotate(-4 205.3 421.9)"/>
<ellipse cx="540.3" cy="421.4" rx="2.9" ry="0.9" fill="#f3dc78" stroke="#140c02" stroke-width="0.55" transform="rotate(3 540.3 421.4)"/>
<ellipse cx="322.6" cy="414.3" rx="2.8" ry="0.8" fill="#f0d060" stroke="#140c02" stroke-width="0.55" transform="rotate(-1 322.6 414.3)"/>
<ellipse cx="463.6" cy="425.2" rx="2.9" ry="1.0" fill="#b4781c" stroke="#140c02" stroke-width="0.55" transform="rotate(0 463.6 425.2)"/>
<ellipse cx="302.2" cy="424.9" rx="2.3" ry="1.0" fill="#f0d060" stroke="#140c02" stroke-width="0.55" transform="rotate(-1 302.2 424.9)"/>
<ellipse cx="359.6" cy="423.8" rx="2.8" ry="1.1" fill="#f7e9a0" stroke="#140c02" stroke-width="0.55" transform="rotate(4 359.6 423.8)"/>
<ellipse cx="519.8" cy="421.0" rx="3.1" ry="0.9" fill="#f3dc78" stroke="#140c02" stroke-width="0.55" transform="rotate(1 519.8 421.0)"/>
<ellipse cx="478.9" cy="416.0" rx="1.8" ry="1.0" fill="#2a1804" stroke="#140c02" stroke-width="0.55" transform="rotate(-7 478.9 416.0)"/>
<ellipse cx="494.2" cy="418.3" rx="2.0" ry="1.0" fill="#e8c24a" stroke="#140c02" stroke-width="0.55" transform="rotate(-3 494.2 418.3)"/>
<ellipse cx="302.9" cy="422.6" rx="1.8" ry="1.0" fill="#c99a2a" stroke="#140c02" stroke-width="0.55" transform="rotate(-11 302.9 422.6)"/>
<ellipse cx="283.3" cy="417.6" rx="2.4" ry="0.9" fill="#f0d060" stroke="#140c02" stroke-width="0.55" transform="rotate(3 283.3 417.6)"/>
<ellipse cx="358.8" cy="414.1" rx="2.6" ry="1.3" fill="#e8c24a" stroke="#140c02" stroke-width="0.55" transform="rotate(9 358.8 414.1)"/>
<ellipse cx="568.0" cy="424.1" rx="2.6" ry="1.1" fill="#b4781c" stroke="#140c02" stroke-width="0.55" transform="rotate(-8 568.0 424.1)"/>
<ellipse cx="406.6" cy="418.6" rx="2.2" ry="1.3" fill="#b4781c" stroke="#140c02" stroke-width="0.55" transform="rotate(-7 406.6 418.6)"/>
<ellipse cx="336.9" cy="422.6" rx="2.1" ry="1.3" fill="#f7e9a0" stroke="#140c02" stroke-width="0.55" transform="rotate(-3 336.9 422.6)"/>
<ellipse cx="455.1" cy="418.3" rx="2.5" ry="1.0" fill="#b4781c" stroke="#140c02" stroke-width="0.55" transform="rotate(-9 455.1 418.3)"/>
<ellipse cx="571.8" cy="420.9" rx="3.0" ry="1.1" fill="#f7e9a0" stroke="#140c02" stroke-width="0.55" transform="rotate(2 571.8 420.9)"/>
<ellipse cx="402.6" cy="420.7" rx="2.9" ry="1.2" fill="#a8551f" stroke="#140c02" stroke-width="0.55" transform="rotate(0 402.6 420.7)"/>
<ellipse cx="462.9" cy="424.8" rx="2.4" ry="1.2" fill="#f7e9a0" stroke="#140c02" stroke-width="0.55" transform="rotate(-11 462.9 424.8)"/>
<ellipse cx="563.8" cy="421.8" rx="2.6" ry="0.9" fill="#f3dc78" stroke="#140c02" stroke-width="0.55" transform="rotate(-14 563.8 421.8)"/>
<ellipse cx="215.3" cy="424.3" rx="2.9" ry="1.3" fill="#c99a2a" stroke="#140c02" stroke-width="0.55" transform="rotate(4 215.3 424.3)"/>
<ellipse cx="432.7" cy="414.6" rx="2.7" ry="0.9" fill="#a8551f" stroke="#140c02" stroke-width="0.55" transform="rotate(12 432.7 414.6)"/>
<ellipse cx="266.1" cy="424.6" rx="1.8" ry="1.2" fill="#a8551f" stroke="#140c02" stroke-width="0.55" transform="rotate(-4 266.1 424.6)"/>
<ellipse cx="519.0" cy="413.8" rx="2.0" ry="1.2" fill="#2a1804" stroke="#140c02" stroke-width="0.55" transform="rotate(11 519.0 413.8)"/>
<ellipse cx="554.4" cy="421.7" rx="2.7" ry="1.0" fill="#f7e9a0" stroke="#140c02" stroke-width="0.55" transform="rotate(1 554.4 421.7)"/>
<ellipse cx="494.0" cy="424.2" rx="3.1" ry="1.3" fill="#e8c24a" stroke="#140c02" stroke-width="0.55" transform="rotate(-13 494.0 424.2)"/>
<ellipse cx="482.9" cy="413.8" rx="2.0" ry="1.0" fill="#f7e9a0" stroke="#140c02" stroke-width="0.55" transform="rotate(8 482.9 413.8)"/>
<ellipse cx="272.5" cy="417.9" rx="2.4" ry="0.9" fill="#c99a2a" stroke="#140c02" stroke-width="0.55" transform="rotate(4 272.5 417.9)"/>
<ellipse cx="439.4" cy="419.5" rx="2.3" ry="1.1" fill="#f7e9a0" stroke="#140c02" stroke-width="0.55" transform="rotate(-13 439.4 419.5)"/>
<ellipse cx="255.4" cy="416.1" rx="2.9" ry="0.9" fill="#f0d060" stroke="#140c02" stroke-width="0.55" transform="rotate(-8 255.4 416.1)"/>
<ellipse cx="596.5" cy="414.7" rx="2.6" ry="0.9" fill="#f3dc78" stroke="#140c02" stroke-width="0.55" transform="rotate(10 596.5 414.7)"/>
<ellipse cx="492.9" cy="418.8" rx="1.9" ry="1.3" fill="#f3dc78" stroke="#140c02" stroke-width="0.55" transform="rotate(-9 492.9 418.8)"/>
<ellipse cx="303.7" cy="417.9" rx="2.5" ry="1.0" fill="#f0d060" stroke="#140c02" stroke-width="0.55" transform="rotate(-6 303.7 417.9)"/>
<ellipse cx="573.3" cy="425.1" rx="2.8" ry="0.9" fill="#2a1804" stroke="#140c02" stroke-width="0.55" transform="rotate(10 573.3 425.1)"/>
<ellipse cx="272.6" cy="420.5" rx="2.0" ry="0.9" fill="#f0d060" stroke="#140c02" stroke-width="0.55" transform="rotate(-3 272.6 420.5)"/>
<ellipse cx="442.5" cy="416.3" rx="2.8" ry="0.9" fill="#f3dc78" stroke="#140c02" stroke-width="0.55" transform="rotate(-4 442.5 416.3)"/>
<ellipse cx="398.3" cy="414.3" rx="2.2" ry="1.2" fill="#f3dc78" stroke="#140c02" stroke-width="0.55" transform="rotate(-6 398.3 414.3)"/>
<ellipse cx="433.6" cy="420.1" rx="1.9" ry="1.3" fill="#f0d060" stroke="#140c02" stroke-width="0.55" transform="rotate(4 433.6 420.1)"/>
<ellipse cx="337.6" cy="419.5" rx="2.1" ry="0.8" fill="#f0d060" stroke="#140c02" stroke-width="0.55" transform="rotate(-2 337.6 419.5)"/>
<ellipse cx="550.4" cy="421.3" rx="1.9" ry="1.2" fill="#e8c24a" stroke="#140c02" stroke-width="0.55" transform="rotate(9 550.4 421.3)"/>
<ellipse cx="536.5" cy="424.7" rx="3.2" ry="0.8" fill="#f7e9a0" stroke="#140c02" stroke-width="0.55" transform="rotate(-10 536.5 424.7)"/>
<ellipse cx="328.8" cy="417.7" rx="2.5" ry="1.1" fill="#a8551f" stroke="#140c02" stroke-width="0.55" transform="rotate(1 328.8 417.7)"/>
<ellipse cx="413.5" cy="419.8" rx="2.0" ry="0.9" fill="#b4781c" stroke="#140c02" stroke-width="0.55" transform="rotate(0 413.5 419.8)"/>
<ellipse cx="453.8" cy="422.3" rx="2.7" ry="0.8" fill="#f0d060" stroke="#140c02" stroke-width="0.55" transform="rotate(-10 453.8 422.3)"/>
<ellipse cx="445.4" cy="415.2" rx="2.8" ry="0.8" fill="#f7e9a0" stroke="#140c02" stroke-width="0.55" transform="rotate(3 445.4 415.2)"/>
<ellipse cx="485.3" cy="414.0" rx="2.9" ry="0.9" fill="#f0d060" stroke="#140c02" stroke-width="0.55" transform="rotate(13 485.3 414.0)"/>
<ellipse cx="579.8" cy="420.9" rx="1.8" ry="1.1" fill="#f7e9a0" stroke="#140c02" stroke-width="0.55" transform="rotate(-9 579.8 420.9)"/>
<ellipse cx="316.9" cy="424.8" rx="2.9" ry="1.1" fill="#e8c24a" stroke="#140c02" stroke-width="0.55" transform="rotate(-14 316.9 424.8)"/>
<ellipse cx="586.2" cy="423.8" rx="2.7" ry="0.9" fill="#f3dc78" stroke="#140c02" stroke-width="0.55" transform="rotate(-11 586.2 423.8)"/>
<ellipse cx="334.3" cy="417.8" rx="2.6" ry="1.2" fill="#b4781c" stroke="#140c02" stroke-width="0.55" transform="rotate(-0 334.3 417.8)"/>
<ellipse cx="225.6" cy="417.2" rx="2.4" ry="1.0" fill="#f0d060" stroke="#140c02" stroke-width="0.55" transform="rotate(0 225.6 417.2)"/>
<ellipse cx="244.5" cy="421.4" rx="1.8" ry="0.9" fill="#b4781c" stroke="#140c02" stroke-width="0.55" transform="rotate(-12 244.5 421.4)"/>
<ellipse cx="495.9" cy="418.8" rx="3.0" ry="1.2" fill="#f0d060" stroke="#140c02" stroke-width="0.55" transform="rotate(-1 495.9 418.8)"/>
<ellipse cx="580.0" cy="425.0" rx="1.9" ry="1.3" fill="#f3dc78" stroke="#140c02" stroke-width="0.55" transform="rotate(-13 580.0 425.0)"/>
<ellipse cx="585.1" cy="418.8" rx="2.3" ry="0.9" fill="#f0d060" stroke="#140c02" stroke-width="0.55" transform="rotate(-9 585.1 418.8)"/>
<ellipse cx="250.9" cy="415.1" rx="2.9" ry="0.9" fill="#f0d060" stroke="#140c02" stroke-width="0.55" transform="rotate(-12 250.9 415.1)"/>
<ellipse cx="349.6" cy="418.9" rx="2.0" ry="1.2" fill="#f7e9a0" stroke="#140c02" stroke-width="0.55" transform="rotate(-11 349.6 418.9)"/>
<ellipse cx="405.5" cy="423.8" rx="2.8" ry="1.2" fill="#f3dc78" stroke="#140c02" stroke-width="0.55" transform="rotate(9 405.5 423.8)"/>
<ellipse cx="315.7" cy="415.8" rx="2.6" ry="1.2" fill="#f3dc78" stroke="#140c02" stroke-width="0.55" transform="rotate(-10 315.7 415.8)"/>
<ellipse cx="536.8" cy="420.2" rx="2.8" ry="1.2" fill="#c99a2a" stroke="#140c02" stroke-width="0.55" transform="rotate(8 536.8 420.2)"/>
<ellipse cx="231.6" cy="414.6" rx="2.6" ry="0.9" fill="#a8551f" stroke="#140c02" stroke-width="0.55" transform="rotate(-2 231.6 414.6)"/>
<ellipse cx="368.2" cy="422.0" rx="2.3" ry="0.8" fill="#f7e9a0" stroke="#140c02" stroke-width="0.55" transform="rotate(12 368.2 422.0)"/>
<ellipse cx="358.5" cy="421.4" rx="2.8" ry="1.1" fill="#f0d060" stroke="#140c02" stroke-width="0.55" transform="rotate(-13 358.5 421.4)"/>
<ellipse cx="235.5" cy="421.4" rx="2.7" ry="1.0" fill="#2a1804" stroke="#140c02" stroke-width="0.55" transform="rotate(-9 235.5 421.4)"/>
<ellipse cx="245.1" cy="423.3" rx="2.1" ry="0.9" fill="#f3dc78" stroke="#140c02" stroke-width="0.55" transform="rotate(-3 245.1 423.3)"/>
<ellipse cx="214.0" cy="420.5" rx="2.3" ry="1.2" fill="#a8551f" stroke="#140c02" stroke-width="0.55" transform="rotate(11 214.0 420.5)"/>
<ellipse cx="236.8" cy="421.0" rx="2.9" ry="1.1" fill="#c99a2a" stroke="#140c02" stroke-width="0.55" transform="rotate(-11 236.8 421.0)"/>
<ellipse cx="429.2" cy="421.7" rx="1.9" ry="1.1" fill="#f0d060" stroke="#140c02" stroke-width="0.55" transform="rotate(4 429.2 421.7)"/>
<ellipse cx="457.1" cy="417.4" rx="2.4" ry="1.2" fill="#e8c24a" stroke="#140c02" stroke-width="0.55" transform="rotate(14 457.1 417.4)"/>
<ellipse cx="536.3" cy="424.3" rx="2.5" ry="1.1" fill="#f7e9a0" stroke="#140c02" stroke-width="0.55" transform="rotate(-13 536.3 424.3)"/>
<ellipse cx="486.9" cy="423.7" rx="2.8" ry="1.0" fill="#e8c24a" stroke="#140c02" stroke-width="0.55" transform="rotate(12 486.9 423.7)"/>
<ellipse cx="434.4" cy="423.1" rx="3.1" ry="1.0" fill="#f0d060" stroke="#140c02" stroke-width="0.55" transform="rotate(11 434.4 423.1)"/>
<ellipse cx="560.1" cy="414.3" rx="2.5" ry="1.1" fill="#b4781c" stroke="#140c02" stroke-width="0.55" transform="rotate(-5 560.1 414.3)"/>
<ellipse cx="380.2" cy="415.5" rx="1.8" ry="1.1" fill="#8b4a1f" stroke="#140c02" stroke-width="0.55" transform="rotate(-3 380.2 415.5)"/>
<ellipse cx="248.6" cy="417.3" rx="2.1" ry="1.0" fill="#2a1804" stroke="#140c02" stroke-width="0.55" transform="rotate(10 248.6 417.3)"/>
<ellipse cx="246.1" cy="414.1" rx="2.2" ry="1.0" fill="#f7e9a0" stroke="#140c02" stroke-width="0.55" transform="rotate(-2 246.1 414.1)"/>
<ellipse cx="283.5" cy="419.9" rx="2.1" ry="1.3" fill="#f0d060" stroke="#140c02" stroke-width="0.55" transform="rotate(-8 283.5 419.9)"/>
<ellipse cx="596.7" cy="420.3" rx="2.6" ry="1.1" fill="#f7e9a0" stroke="#140c02" stroke-width="0.55" transform="rotate(12 596.7 420.3)"/>
<ellipse cx="375.4" cy="417.5" rx="3.2" ry="0.9" fill="#8b4a1f" stroke="#140c02" stroke-width="0.55" transform="rotate(10 375.4 417.5)"/>
<ellipse cx="502.8" cy="416.3" rx="2.4" ry="0.8" fill="#f0d060" stroke="#140c02" stroke-width="0.55" transform="rotate(-5 502.8 416.3)"/>
<ellipse cx="326.0" cy="421.4" rx="3.2" ry="0.9" fill="#f7e9a0" stroke="#140c02" stroke-width="0.55" transform="rotate(9 326.0 421.4)"/>
<ellipse cx="154.6" cy="422.0" rx="2.0" ry="1.2" fill="#8b4a1f" stroke="#140c02" stroke-width="0.55" transform="rotate(14 154.6 422.0)"/>
<ellipse cx="176.5" cy="423.4" rx="2.7" ry="1.3" fill="#f7e9a0" stroke="#140c02" stroke-width="0.55" transform="rotate(5 176.5 423.4)"/>
<ellipse cx="174.5" cy="421.7" rx="2.9" ry="0.9" fill="#b4781c" stroke="#140c02" stroke-width="0.55" transform="rotate(5 174.5 421.7)"/>
<ellipse cx="164.8" cy="423.5" rx="2.9" ry="1.2" fill="#f0d060" stroke="#140c02" stroke-width="0.55" transform="rotate(-4 164.8 423.5)"/>
<ellipse cx="155.0" cy="425.0" rx="3.1" ry="1.2" fill="#e8c24a" stroke="#140c02" stroke-width="0.55" transform="rotate(-7 155.0 425.0)"/>
<ellipse cx="192.6" cy="424.8" rx="2.3" ry="0.8" fill="#f3dc78" stroke="#140c02" stroke-width="0.55" transform="rotate(2 192.6 424.8)"/>
<ellipse cx="195.9" cy="423.8" rx="2.4" ry="1.1" fill="#f3dc78" stroke="#140c02" stroke-width="0.55" transform="rotate(-12 195.9 423.8)"/>
<ellipse cx="154.2" cy="425.3" rx="2.4" ry="1.1" fill="#f7e9a0" stroke="#140c02" stroke-width="0.55" transform="rotate(12 154.2 425.3)"/>
<ellipse cx="182.9" cy="421.8" rx="2.0" ry="1.2" fill="#f3dc78" stroke="#140c02" stroke-width="0.55" transform="rotate(10 182.9 421.8)"/>
<ellipse cx="167.4" cy="423.0" rx="2.5" ry="1.0" fill="#f7e9a0" stroke="#140c02" stroke-width="0.55" transform="rotate(1 167.4 423.0)"/>
<ellipse cx="164.7" cy="423.8" rx="2.1" ry="1.0" fill="#f3dc78" stroke="#140c02" stroke-width="0.55" transform="rotate(-1 164.7 423.8)"/>
<ellipse cx="174.8" cy="423.0" rx="2.3" ry="1.0" fill="#f7e9a0" stroke="#140c02" stroke-width="0.55" transform="rotate(-7 174.8 423.0)"/>
<ellipse cx="203.8" cy="425.9" rx="2.8" ry="1.0" fill="#e8c24a" stroke="#140c02" stroke-width="0.55" transform="rotate(0 203.8 425.9)"/>
<ellipse cx="190.0" cy="422.7" rx="2.5" ry="1.3" fill="#f3dc78" stroke="#140c02" stroke-width="0.55" transform="rotate(-7 190.0 422.7)"/>
<ellipse cx="183.6" cy="422.4" rx="2.8" ry="1.1" fill="#e8c24a" stroke="#140c02" stroke-width="0.55" transform="rotate(7 183.6 422.4)"/>
<ellipse cx="185.8" cy="424.6" rx="1.8" ry="1.2" fill="#b4781c" stroke="#140c02" stroke-width="0.55" transform="rotate(12 185.8 424.6)"/>
<ellipse cx="150.3" cy="422.9" rx="2.3" ry="0.9" fill="#c99a2a" stroke="#140c02" stroke-width="0.55" transform="rotate(12 150.3 422.9)"/>
<ellipse cx="161.7" cy="423.1" rx="2.2" ry="0.8" fill="#f7e9a0" stroke="#140c02" stroke-width="0.55" transform="rotate(8 161.7 423.1)"/>
<ellipse cx="184.5" cy="424.4" rx="2.5" ry="0.9" fill="#f3dc78" stroke="#140c02" stroke-width="0.55" transform="rotate(-12 184.5 424.4)"/>
<ellipse cx="203.8" cy="423.5" rx="2.1" ry="0.9" fill="#8b4a1f" stroke="#140c02" stroke-width="0.55" transform="rotate(-5 203.8 423.5)"/>
<ellipse cx="159.0" cy="425.0" rx="2.4" ry="1.1" fill="#e8c24a" stroke="#140c02" stroke-width="0.55" transform="rotate(-8 159.0 425.0)"/>
<ellipse cx="195.9" cy="422.1" rx="2.4" ry="0.9" fill="#e8c24a" stroke="#140c02" stroke-width="0.55" transform="rotate(9 195.9 422.1)"/>
<rect x="199" y="378" width="3.5" height="28" fill="#996633"/>
<polygon points="174.7,318 185,325.8 188.3,320.3 199.2,326.7 213.3,320.3 219.2,325.8 225,319.7 230.8,328.3 230,333.3 225.8,338.3 226.7,342.5 233.3,345.8 222.5,356.7 231.7,360 224.2,374.2 222.5,376.7 210,380.8 183.3,380.3 182.5,367.5 172.5,368.3 174.2,353.3 165.8,349.2 176.7,342.5" fill="#339933" stroke="#07180f" stroke-width="0.8" stroke-linejoin="miter" />
<circle cx="178.8" cy="331.7" r="1.8" fill="#e03010" stroke="#7a1a00" stroke-width="0.5"/>
<circle cx="195" cy="331.7" r="1.8" fill="#e03010" stroke="#7a1a00" stroke-width="0.5"/>
<circle cx="219.2" cy="331.7" r="1.8" fill="#e03010" stroke="#7a1a00" stroke-width="0.5"/>
<circle cx="207" cy="340.8" r="1.8" fill="#e03010" stroke="#7a1a00" stroke-width="0.5"/>
<circle cx="183.3" cy="349.2" r="1.8" fill="#e03010" stroke="#7a1a00" stroke-width="0.5"/>
<circle cx="203.3" cy="357.5" r="1.8" fill="#e03010" stroke="#7a1a00" stroke-width="0.5"/>
<circle cx="219.2" cy="365.8" r="1.8" fill="#e03010" stroke="#7a1a00" stroke-width="0.5"/>
<circle cx="191.3" cy="369.5" r="1.8" fill="#e03010" stroke="#7a1a00" stroke-width="0.5"/>
<polygon points="154,385 158,381 161.8,376.7 163.4,369.7 168,372 172.7,371.2 176,369 181,374 182,380 188,382 186.5,405 154,405" fill="#3a9f76" stroke="#07180f" stroke-width="0.8" stroke-linejoin="miter" />
<polygon points="209.3,400 210,390 212.7,382.7 214.7,376.7 222,377.3 230,378.7 237.3,376.7 240,381.3 242.7,390 249.3,386.7 252.7,392.7 250,398.7 251.3,404.7 252,410 250.7,416 246,418 238.7,419.3 236,422.7 228.7,421.3 221.3,424 216,422.7 214.7,416.7 210,418 205.3,416 206,410 209.3,405.3" fill="#808016" stroke="#07180f" stroke-width="0.8" stroke-linejoin="miter" />
<path d="M215 392 q3 -8 11 -6 q4 -5 10 -1 q8 0 8 9 q5 4 2 11 q2 8 -6 10 q-6 6 -13 1 q-9 1 -10 -7 q-6 -6 -2 -17 M221 398 q2 -6 9 -4 q7 -1 8 6 q4 6 -2 10 q-3 6 -9 3 q-7 -1 -6 -7 q-3 -4 0 -8 M227 400 q5 -1 5 4 q1 5 -4 5 q-4 -2 -1 -9 M214.7 377 q3 7 6 10 M237 377 q-1 7 -5 9 M249.5 387 q-5 1 -6 7 M251.5 410 q-5 -3 -7 0 M236 422.5 q1 -5 -2 -7 M216 422.5 q1 -5 5 -6 M206 411 q5 -2 8 1 M226 385 l3 6 M241 401 l7 -1 M219 409 l-4 5 M233 413 l5 5 M224 391 l-3 -6 M243 394 l5 -4" fill="none" stroke="#2e2e00" stroke-width="0.75"/>
<polygon points="104.3,422 104.5,380 106,378 107.5,390 109,379 110.5,377.4 112.5,388 115,380.5 119,383 124,379 128.4,380.5 132,384.4 137,380.5 141,388 139,393 142,400 141,423 136,421 134,425 131,421 127,426 124,421 121,425 118,421 115,425.5 112,421 108,425" fill="#1c801c" stroke="#07180f" stroke-width="0.8" stroke-linejoin="miter" />
<path d="M107 392 V420 M110 390 V421 M113 393 V420 M118 388 L116 420 M123 390 L120 419" stroke="#0d5a0d" stroke-width="0.7" fill="none"/>
<polygon points="123,421 122.2,412.4 130.8,403.9 126.9,402.3 128.4,397.6 136.2,396.1 139.3,389.9 146.3,393 156.4,389.9 160.3,392.2 165.7,389.9 169.6,395.3 165,398.4 165.7,406.2 155.6,403.9 155.6,411.6 151.7,414.7 153.3,418.6 147.9,424 132.3,425.6 131.5,418.6 126.9,418.6" fill="#1fd1a5" stroke="#07180f" stroke-width="0.8" stroke-linejoin="miter" />
<polygon points="155.6,403.9 158.7,406.2 165.7,406.2 171.2,403.9 177.4,404.6 179,410 175.8,414.7 177.4,422.5 169.6,423.3 157.2,422.5 151.7,418.6 151.7,414.7 155.6,411.6" fill="#1c801c" stroke="#07180f" stroke-width="0.8" stroke-linejoin="miter" />
<polygon points="178,415 181,408 185,407 187,404 191,405 195,403 199,405 203,404 204,411 202,415 205,419 200,423 190,424 183,423 179,421 176,419" fill="#1c801c" stroke="#07180f" stroke-width="0.8" stroke-linejoin="miter" />
<polygon points="259,395 264,390 270,392 276,389 283,391 285,395 283,403 287,411 282,415 283,421 264,423 254,421 253,417 257,413 256,408 261,404 260,399" fill="#1c801c" stroke="#07180f" stroke-width="0.8" stroke-linejoin="miter" />
<polygon points="287,398 292,394 298,397 306,394 312,395 316,398 313,404 317,415 306,418 285,417.4 283,414 286,410 285,404 288,401" fill="#3ccd3c" stroke="#07180f" stroke-width="0.8" stroke-linejoin="miter" />
<rect x="11" y="382" width="4" height="29" fill="#a6ebe0" opacity="0.8"/>
<rect x="19.5" y="384" width="4" height="26" fill="#a6ebe0" opacity="0.8"/>
<rect x="27.5" y="386" width="4" height="24" fill="#a6ebe0" opacity="0.8"/>
<rect x="56" y="388" width="4" height="24" fill="#a6ebe0" opacity="0.8"/>
<rect x="63" y="386" width="4" height="26" fill="#a6ebe0" opacity="0.8"/>
<rect x="82" y="386" width="4" height="32" fill="#a6ebe0" opacity="0.8"/>
<rect x="75" y="390" width="4" height="24" fill="#a6ebe0" opacity="0.8"/>
<rect x="15.8" y="380" width="2.4" height="26" fill="#3c4a46"/>
<rect x="25.3" y="380" width="2.4" height="26" fill="#3c4a46"/>
<rect x="60.3" y="384" width="2.4" height="27" fill="#3c4a46"/>
<rect x="79.3" y="384" width="2.4" height="36" fill="#3c4a46"/>
<path d="M36.6 418 Q37.0 395 37 373" fill="none" stroke="#3cc83c" stroke-width="0.8"/>
<path d="M48.4 418 Q46.6 395 45 369" fill="none" stroke="#3cc83c" stroke-width="0.8"/>
<path d="M50.1 418 Q50.4 395 50 370" fill="none" stroke="#3cc83c" stroke-width="0.8"/>
<path d="M55.5 418 Q56.8 395 58 373" fill="none" stroke="#3cc83c" stroke-width="0.8"/>
<path d="M65.0 418 Q65.7 395 64 359" fill="none" stroke="#3cc83c" stroke-width="0.8"/>
<path d="M63.8 418 Q64.6 395 67 369" fill="none" stroke="#3cc83c" stroke-width="0.8"/>
<path d="M73.7 418 Q76.6 395 77 363" fill="none" stroke="#3cc83c" stroke-width="0.8"/>
<path d="M83.5 418 Q80.9 395 82 372" fill="none" stroke="#3cc83c" stroke-width="0.8"/>
<path d="M97.4 418 Q97.3 395 93.5 364" fill="none" stroke="#3cc83c" stroke-width="0.8"/>
<path d="M100.2 418 Q100.1 395 99 366" fill="none" stroke="#3cc83c" stroke-width="0.8"/>
<path d="M108.3 418 Q107.7 395 111 370" fill="none" stroke="#3cc83c" stroke-width="0.8"/>
<path d="M18.2 419 Q17.2 408.8 13.3 401.9" fill="none" stroke="#3fc33f" stroke-width="0.5"/>
<path d="M20.0 419 Q19.4 401.0 17.2 389.0" fill="none" stroke="#3fc33f" stroke-width="0.5"/>
<path d="M18.0 419 Q18.0 402.5 18.0 391.5" fill="none" stroke="#3fc33f" stroke-width="0.5"/>
<path d="M16.4 419 Q18.0 406.4 24.4 398.0" fill="none" stroke="#3fc33f" stroke-width="0.5"/>
<path d="M22.7 419 Q21.8 406.0 18.4 397.3" fill="none" stroke="#5fd05f" stroke-width="0.5"/>
<path d="M5.7 419 Q4.5 403.3 -0.5 392.9" fill="none" stroke="#3fc33f" stroke-width="0.5"/>
<path d="M53.7 419 Q55.2 403.1 61.0 392.5" fill="none" stroke="#2fae2f" stroke-width="0.55"/>
<path d="M30.0 419 Q31.3 405.4 36.6 396.4" fill="none" stroke="#5fd05f" stroke-width="0.55"/>
<path d="M40.5 419 Q40.3 398.8 39.2 385.4" fill="none" stroke="#2fae2f" stroke-width="0.55"/>
<path d="M47.6 419 Q46.9 397.9 43.9 383.9" fill="none" stroke="#3fc33f" stroke-width="0.55"/>
<path d="M38.7 419 Q38.4 408.0 37.3 400.7" fill="none" stroke="#3fc33f" stroke-width="0.55"/>
<path d="M33.8 419 Q32.2 398.9 25.9 385.4" fill="none" stroke="#5fd05f" stroke-width="0.55"/>
<path d="M52.3 419 Q52.5 405.9 53.3 397.1" fill="none" stroke="#5fd05f" stroke-width="0.55"/>
<path d="M44.2 419 Q45.1 395.2 48.6 379.3" fill="none" stroke="#5fd05f" stroke-width="0.55"/>
<path d="M48.0 419 Q47.8 406.7 46.8 398.4" fill="none" stroke="#3fc33f" stroke-width="0.55"/>
<path d="M30.0 419 Q31.5 396.8 37.6 382.0" fill="none" stroke="#2fae2f" stroke-width="0.55"/>
<path d="M38.5 419 Q37.6 396.5 33.9 381.5" fill="none" stroke="#5fd05f" stroke-width="0.55"/>
<path d="M57.9 419 Q58.1 400.3 59.1 387.8" fill="none" stroke="#3fc33f" stroke-width="0.55"/>
<path d="M57.7 419 Q56.9 405.4 53.8 396.3" fill="none" stroke="#2fae2f" stroke-width="0.55"/>
<path d="M39.2 419 Q37.8 404.3 32.4 394.5" fill="none" stroke="#3fc33f" stroke-width="0.55"/>
<path d="M35.8 419 Q34.3 399.8 28.1 387.0" fill="none" stroke="#5fd05f" stroke-width="0.55"/>
<path d="M40.4 419 Q41.9 402.2 47.8 391.0" fill="none" stroke="#5fd05f" stroke-width="0.55"/>
<path d="M96.3 419 Q95.9 406.4 94.5 398.0" fill="none" stroke="#1e9a1e" stroke-width="0.7"/>
<path d="M72.3 419 Q72.7 405.2 74.1 396.0" fill="none" stroke="#1e9a1e" stroke-width="0.7"/>
<path d="M65.3 419 Q65.5 399.9 66.2 387.2" fill="none" stroke="#2aa52a" stroke-width="0.7"/>
<path d="M98.6 419 Q98.3 400.2 97.3 387.7" fill="none" stroke="#2fae2f" stroke-width="0.7"/>
<path d="M63.0 419 Q62.2 401.4 59.1 389.7" fill="none" stroke="#2aa52a" stroke-width="0.7"/>
<path d="M69.8 419 Q70.1 397.3 71.4 382.9" fill="none" stroke="#43c843" stroke-width="0.7"/>
<path d="M81.9 419 Q83.5 395.9 89.6 380.6" fill="none" stroke="#1e9a1e" stroke-width="0.7"/>
<path d="M68.5 419 Q69.6 400.8 74.1 388.7" fill="none" stroke="#2fae2f" stroke-width="0.7"/>
<path d="M70.9 419 Q69.9 396.1 66.2 380.8" fill="none" stroke="#2fae2f" stroke-width="0.7"/>
<path d="M61.2 419 Q60.4 402.8 57.2 391.9" fill="none" stroke="#2fae2f" stroke-width="0.7"/>
<path d="M66.1 419 Q66.3 403.3 67.3 392.9" fill="none" stroke="#1e9a1e" stroke-width="0.7"/>
<path d="M62.2 419 Q62.1 406.4 61.4 398.0" fill="none" stroke="#43c843" stroke-width="0.7"/>
<path d="M88.2 419 Q88.5 399.1 89.6 385.8" fill="none" stroke="#1e9a1e" stroke-width="0.7"/>
<path d="M85.1 419 Q85.1 396.0 84.7 380.7" fill="none" stroke="#43c843" stroke-width="0.7"/>
<path d="M90.2 419 Q88.7 395.5 82.6 379.8" fill="none" stroke="#2fae2f" stroke-width="0.7"/>
<path d="M80.2 419 Q79.6 398.6 77.3 384.9" fill="none" stroke="#2fae2f" stroke-width="0.7"/>
<path d="M61.5 419 Q62.2 401.0 65.3 389.0" fill="none" stroke="#1e9a1e" stroke-width="0.7"/>
<path d="M94.5 419 Q94.0 396.1 92.1 380.9" fill="none" stroke="#2aa52a" stroke-width="0.7"/>
<path d="M99.4 419 Q99.2 396.7 98.1 381.8" fill="none" stroke="#2fae2f" stroke-width="0.7"/>
<path d="M97.7 419 Q98.1 400.6 99.7 388.4" fill="none" stroke="#2aa52a" stroke-width="0.7"/>
<path d="M75.4 419 Q74.1 408.0 68.6 400.7" fill="none" stroke="#2fae2f" stroke-width="0.7"/>
<path d="M87.4 419 Q88.6 395.1 93.5 379.1" fill="none" stroke="#43c843" stroke-width="0.7"/>
<path d="M75.9 419 Q76.1 398.5 77.2 384.8" fill="none" stroke="#2aa52a" stroke-width="0.7"/>
<path d="M79.3 419 Q79.3 401.1 79.6 389.1" fill="none" stroke="#2fae2f" stroke-width="0.7"/>
<path d="M72.3 419 Q70.7 407.0 64.6 399.1" fill="none" stroke="#2fae2f" stroke-width="0.7"/>
<path d="M80.9 419 Q82.2 400.1 87.6 387.5" fill="none" stroke="#43c843" stroke-width="0.7"/>
<path d="M99.2 419 Q98.1 403.3 93.5 392.9" fill="none" stroke="#1e9a1e" stroke-width="0.7"/>
<path d="M81.8 419 Q81.3 398.3 79.3 384.4" fill="none" stroke="#2aa52a" stroke-width="0.7"/>
<path d="M80.9 419 Q80.6 405.0 79.4 395.7" fill="none" stroke="#43c843" stroke-width="0.7"/>
<path d="M67.1 419 Q68.1 402.5 72.0 391.5" fill="none" stroke="#1e9a1e" stroke-width="0.7"/>
<path d="M98.5 419 Q98.8 403.1 99.8 392.5" fill="none" stroke="#43c843" stroke-width="0.7"/>
<path d="M67.7 419 Q67.2 406.4 65.3 398.0" fill="none" stroke="#2fae2f" stroke-width="0.7"/>
<path d="M90.7 419 Q90.0 395.7 87.1 380.1" fill="none" stroke="#1e9a1e" stroke-width="0.7"/>
<path d="M63.2 419 Q64.6 402.0 70.0 390.6" fill="none" stroke="#2aa52a" stroke-width="0.7"/>
<path d="M75.6 419 Q76.1 401.3 78.4 389.6" fill="none" stroke="#2aa52a" stroke-width="0.7"/>
<path d="M72.7 419 Q72.0 397.3 69.2 382.8" fill="none" stroke="#2fae2f" stroke-width="0.7"/>
<path d="M89.2 419 Q88.7 404.5 86.9 394.8" fill="none" stroke="#2fae2f" stroke-width="0.7"/>
<path d="M87.5 419 Q86.5 402.9 82.5 392.1" fill="none" stroke="#43c843" stroke-width="0.7"/>
<path d="M68.9 419 Q67.5 406.3 61.7 397.9" fill="none" stroke="#2fae2f" stroke-width="0.7"/>
<path d="M78.5 419 Q79.0 399.9 81.0 387.1" fill="none" stroke="#43c843" stroke-width="0.7"/>
<path d="M102.1 419 Q101.1 399.2 97.3 385.9" fill="none" stroke="#2aa52a" stroke-width="0.7"/>
<path d="M69.8 419 Q70.6 398.8 73.9 385.3" fill="none" stroke="#2fae2f" stroke-width="0.7"/>
<path d="M66.2 419 Q65.7 404.6 63.8 395.0" fill="none" stroke="#1e9a1e" stroke-width="0.7"/>
<path d="M76.1 419 Q77.4 397.7 82.6 383.6" fill="none" stroke="#2fae2f" stroke-width="0.7"/>
<path d="M76.9 419 Q76.5 396.4 75.1 381.4" fill="none" stroke="#2aa52a" stroke-width="0.7"/>
<path d="M78.9 419 Q80.2 399.9 85.4 387.2" fill="none" stroke="#2aa52a" stroke-width="0.7"/>
<path d="M83.3 419 Q83.3 399.6 83.3 386.6" fill="none" stroke="#43c843" stroke-width="0.7"/>
<path d="M79.3 419 Q78.4 399.6 74.6 386.7" fill="none" stroke="#2fae2f" stroke-width="0.7"/>
<path d="M67.8 419 Q69.3 396.3 75.5 381.2" fill="none" stroke="#43c843" stroke-width="0.7"/>
<path d="M82.7 419 Q82.1 397.8 79.8 383.6" fill="none" stroke="#2fae2f" stroke-width="0.7"/>
<path d="M74.0 419 Q73.8 407.1 73.1 399.2" fill="none" stroke="#2aa52a" stroke-width="0.7"/>
<path d="M93.3 419 Q91.8 401.8 85.8 390.3" fill="none" stroke="#2fae2f" stroke-width="0.7"/>
<path d="M77.7 419 Q77.8 407.7 78.3 400.2" fill="none" stroke="#1e9a1e" stroke-width="0.7"/>
<path d="M79.6 419 Q80.9 395.0 86.1 379.0" fill="none" stroke="#2aa52a" stroke-width="0.7"/>
<path d="M101.5 419 Q102.9 401.7 108.7 390.2" fill="none" stroke="#2fae2f" stroke-width="0.7"/>
<path d="M92.9 419 Q93.0 402.4 93.8 391.3" fill="none" stroke="#1e9a1e" stroke-width="0.7"/>
<path d="M82.0 419 Q82.2 397.1 83.0 382.4" fill="none" stroke="#43c843" stroke-width="0.7"/>
<path d="M88.9 419 Q90.1 395.6 94.8 380.0" fill="none" stroke="#1e9a1e" stroke-width="0.7"/>
<path d="M72.0 419 Q72.1 406.3 72.7 397.9" fill="none" stroke="#43c843" stroke-width="0.7"/>
<path d="M84.4 419 Q84.5 405.5 84.9 396.6" fill="none" stroke="#2fae2f" stroke-width="0.7"/>
<path d="M85.8 419 Q87.3 407.8 93.4 400.4" fill="none" stroke="#2aa52a" stroke-width="0.7"/>
<path d="M83.0 419 Q81.8 395.1 77.0 379.2" fill="none" stroke="#2fae2f" stroke-width="0.7"/>
<path d="M89.8 419 Q89.9 407.3 90.4 399.6" fill="none" stroke="#2aa52a" stroke-width="0.7"/>
<path d="M100.4 419 Q100.0 397.6 98.8 383.4" fill="none" stroke="#1e9a1e" stroke-width="0.7"/>
<path d="M79.8 419 Q79.6 406.5 78.7 398.2" fill="none" stroke="#2aa52a" stroke-width="0.7"/>
<path d="M82.1 419 Q81.9 406.8 80.9 398.6" fill="none" stroke="#2fae2f" stroke-width="0.7"/>
<path d="M100.6 419 Q101.5 406.5 105.0 398.2" fill="none" stroke="#2fae2f" stroke-width="0.7"/>
<path d="M59.6 419 Q58.1 406.1 51.8 397.6" fill="none" stroke="#43c843" stroke-width="0.7"/>
<path d="M72.8 419 Q73.2 403.5 74.7 393.2" fill="none" stroke="#2fae2f" stroke-width="0.7"/>
<path d="M81.0 419 Q82.1 400.5 86.6 388.2" fill="none" stroke="#43c843" stroke-width="0.7"/>
<path d="M91.0 419 Q92.2 398.9 97.1 385.6" fill="none" stroke="#2fae2f" stroke-width="0.7"/>
<path d="M75.3 419 Q75.4 402.7 75.8 391.9" fill="none" stroke="#1e9a1e" stroke-width="0.7"/>
<path d="M82.8 419 Q82.9 396.8 83.3 382.0" fill="none" stroke="#1e9a1e" stroke-width="0.7"/>
<path d="M82.4 419 Q82.7 397.0 84.1 382.3" fill="none" stroke="#1e9a1e" stroke-width="0.7"/>
<path d="M68.7 419 Q69.7 398.4 73.7 384.7" fill="none" stroke="#1e9a1e" stroke-width="0.7"/>
<path d="M72.5 419 Q73.9 404.0 79.3 394.1" fill="none" stroke="#1e9a1e" stroke-width="0.7"/>
<path d="M93.8 419 Q92.5 405.6 87.4 396.7" fill="none" stroke="#1e9a1e" stroke-width="0.7"/>
<path d="M64.1 419 Q63.7 407.0 62.3 399.1" fill="none" stroke="#2aa52a" stroke-width="0.7"/>
<path d="M96.3 419 Q97.2 402.6 100.9 391.7" fill="none" stroke="#1e9a1e" stroke-width="0.7"/>
<path d="M67.2 419 Q68.2 399.9 72.0 387.2" fill="none" stroke="#2fae2f" stroke-width="0.7"/>
<path d="M67.2 419 Q68.6 399.2 73.8 386.0" fill="none" stroke="#43c843" stroke-width="0.7"/>
<path d="M63.3 419 Q64.1 401.5 67.4 389.9" fill="none" stroke="#1e9a1e" stroke-width="0.7"/>
<path d="M94.9 419 Q93.4 401.8 87.3 390.4" fill="none" stroke="#2aa52a" stroke-width="0.7"/>
<path d="M64.7 419 Q63.8 405.8 60.0 396.9" fill="none" stroke="#1e9a1e" stroke-width="0.7"/>
<path d="M103.6 419 Q102.3 396.0 97.1 380.6" fill="none" stroke="#2fae2f" stroke-width="0.7"/>
<path d="M17.4 419 Q16.1 411.3 10.7 406.2" fill="none" stroke="#1e9a1e" stroke-width="0.8"/>
<path d="M36.7 419 Q36.7 412.6 36.9 408.3" fill="none" stroke="#2aa52a" stroke-width="0.8"/>
<path d="M25.0 419 Q25.4 413.2 27.2 409.3" fill="none" stroke="#1e9a1e" stroke-width="0.8"/>
<path d="M88.4 419 Q88.3 414.3 87.7 411.2" fill="none" stroke="#2aa52a" stroke-width="0.8"/>
<path d="M44.5 419 Q43.5 414.2 39.2 411.0" fill="none" stroke="#1e9a1e" stroke-width="0.8"/>
<path d="M36.4 419 Q37.5 414.9 41.8 412.2" fill="none" stroke="#2aa52a" stroke-width="0.8"/>
<path d="M61.0 419 Q61.2 414.3 62.3 411.1" fill="none" stroke="#2aa52a" stroke-width="0.8"/>
<path d="M84.5 419 Q85.8 413.9 91.1 410.4" fill="none" stroke="#1e9a1e" stroke-width="0.8"/>
<path d="M85.5 419 Q86.7 413.0 91.8 408.9" fill="none" stroke="#2aa52a" stroke-width="0.8"/>
<path d="M80.7 419 Q80.4 410.8 79.2 405.3" fill="none" stroke="#1e9a1e" stroke-width="0.8"/>
<path d="M11.1 419 Q11.0 413.3 10.6 409.6" fill="none" stroke="#1e9a1e" stroke-width="0.8"/>
<path d="M92.8 419 Q94.1 409.5 99.2 403.1" fill="none" stroke="#1e9a1e" stroke-width="0.8"/>
<path d="M27.2 419 Q27.7 409.7 29.9 403.6" fill="none" stroke="#2aa52a" stroke-width="0.8"/>
<path d="M25.6 419 Q24.6 413.0 20.5 408.9" fill="none" stroke="#1e9a1e" stroke-width="0.8"/>
<path d="M43.0 419 Q43.4 409.4 45.2 403.0" fill="none" stroke="#1e9a1e" stroke-width="0.8"/>
<path d="M80.2 419 Q78.6 409.5 72.5 403.2" fill="none" stroke="#1e9a1e" stroke-width="0.8"/>
<path d="M77.9 419 Q77.6 413.9 76.3 410.4" fill="none" stroke="#1e9a1e" stroke-width="0.8"/>
<path d="M80.1 419 Q78.6 411.5 72.3 406.5" fill="none" stroke="#2aa52a" stroke-width="0.8"/>
<path d="M29.1 419 Q29.2 410.0 29.9 403.9" fill="none" stroke="#2aa52a" stroke-width="0.8"/>
<path d="M100.7 419 Q102.3 412.0 108.6 407.3" fill="none" stroke="#2aa52a" stroke-width="0.8"/>
<path d="M85.0 419 Q85.3 414.9 86.5 412.2" fill="none" stroke="#1e9a1e" stroke-width="0.8"/>
<path d="M42.6 419 Q42.3 409.8 40.8 403.6" fill="none" stroke="#1e9a1e" stroke-width="0.8"/>
<path d="M89.6 419 Q89.9 412.1 91.1 407.6" fill="none" stroke="#2aa52a" stroke-width="0.8"/>
<path d="M98.5 419 Q98.6 412.9 99.0 408.8" fill="none" stroke="#2aa52a" stroke-width="0.8"/>
<path d="M40.6 419 Q41.1 413.7 43.0 410.1" fill="none" stroke="#2aa52a" stroke-width="0.8"/>
<path d="M70.4 419 Q68.8 410.9 62.8 405.5" fill="none" stroke="#1e9a1e" stroke-width="0.8"/>
<path d="M62.6 419 Q62.3 411.6 61.1 406.7" fill="none" stroke="#2aa52a" stroke-width="0.8"/>
<path d="M9.3 419 Q9.0 413.5 7.6 409.8" fill="none" stroke="#2aa52a" stroke-width="0.8"/>
<path d="M11.4 419 Q11.1 410.0 10.2 403.9" fill="none" stroke="#2aa52a" stroke-width="0.8"/>
<path d="M29.1 419 Q27.6 410.9 21.8 405.4" fill="none" stroke="#1e9a1e" stroke-width="0.8"/>
<path d="M97.7 419 Q97.6 411.1 97.2 405.8" fill="none" stroke="#1e9a1e" stroke-width="0.8"/>
<path d="M64.4 419 Q64.8 414.7 66.4 411.8" fill="none" stroke="#2aa52a" stroke-width="0.8"/>
<path d="M15.8 419 Q15.3 410.2 13.5 404.4" fill="none" stroke="#1e9a1e" stroke-width="0.8"/>
<path d="M16.4 419 Q17.0 412.7 19.1 408.6" fill="none" stroke="#2aa52a" stroke-width="0.8"/>
<path d="M64.1 419 Q64.7 411.6 67.0 406.6" fill="none" stroke="#2aa52a" stroke-width="0.8"/>
<path d="M81.8 419 Q83.4 412.2 89.8 407.7" fill="none" stroke="#2aa52a" stroke-width="0.8"/>
<path d="M77.4 419 Q76.2 414.0 71.3 410.6" fill="none" stroke="#2aa52a" stroke-width="0.8"/>
<path d="M82.4 419 Q82.0 411.7 80.2 406.8" fill="none" stroke="#2aa52a" stroke-width="0.8"/>
<path d="M65.0 419 Q65.6 411.0 68.2 405.7" fill="none" stroke="#1e9a1e" stroke-width="0.8"/>
<path d="M67.3 419 Q66.3 410.9 62.3 405.5" fill="none" stroke="#1e9a1e" stroke-width="0.8"/>
<path d="M54.2 419 Q53.2 411.5 49.4 406.5" fill="none" stroke="#1e9a1e" stroke-width="0.8"/>
<path d="M66.8 419 Q66.1 415.3 63.0 412.9" fill="none" stroke="#1e9a1e" stroke-width="0.8"/>
<path d="M66.3 419 Q66.5 414.8 67.0 412.0" fill="none" stroke="#1e9a1e" stroke-width="0.8"/>
<path d="M79.6 419 Q78.5 409.9 74.2 403.9" fill="none" stroke="#1e9a1e" stroke-width="0.8"/>
<path d="M67.1 419 Q67.0 413.2 66.8 409.3" fill="none" stroke="#1e9a1e" stroke-width="0.8"/>
<path d="M37.8 419 Q36.7 412.4 32.0 408.1" fill="none" stroke="#1e9a1e" stroke-width="0.8"/>
<path d="M84.2 419 Q85.3 412.7 89.4 408.5" fill="none" stroke="#1e9a1e" stroke-width="0.8"/>
<path d="M48.4 419 Q48.1 410.9 46.7 405.5" fill="none" stroke="#1e9a1e" stroke-width="0.8"/>
<path d="M40.9 419 Q42.5 411.5 48.7 406.5" fill="none" stroke="#2aa52a" stroke-width="0.8"/>
<path d="M33.1 419 Q34.1 410.8 38.3 405.4" fill="none" stroke="#1e9a1e" stroke-width="0.8"/>
<path d="M46.8 419 Q45.5 413.2 40.3 409.3" fill="none" stroke="#2aa52a" stroke-width="0.8"/>
<path d="M11.9 419 Q12.1 414.9 12.9 412.2" fill="none" stroke="#2aa52a" stroke-width="0.8"/>
<path d="M85.5 419 Q86.6 412.6 90.7 408.4" fill="none" stroke="#1e9a1e" stroke-width="0.8"/>
<path d="M11.6 419 Q12.1 414.1 14.2 410.9" fill="none" stroke="#1e9a1e" stroke-width="0.8"/>
<path d="M73.5 419 Q74.4 412.4 77.7 408.1" fill="none" stroke="#2aa52a" stroke-width="0.8"/>
<path d="M32.3 419 Q31.8 414.5 30.0 411.6" fill="none" stroke="#2aa52a" stroke-width="0.8"/>
<path d="M40.6 419 Q41.3 414.7 44.0 411.8" fill="none" stroke="#2aa52a" stroke-width="0.8"/>
<path d="M47.8 419 Q47.2 410.6 44.7 405.0" fill="none" stroke="#2aa52a" stroke-width="0.8"/>
<path d="M26.1 419 Q26.9 409.6 29.8 403.3" fill="none" stroke="#1e9a1e" stroke-width="0.8"/>
<path d="M12.4 419 Q10.9 410.4 4.8 404.7" fill="none" stroke="#2aa52a" stroke-width="0.8"/>
<polygon points="6,418.3 6.0,406.7 8.0,413.3 9.4,405.6 10.6,413.0 11.8,404.0 13.3,413.6 15.3,404.7 16.4,411.9 17.7,403.6 19.7,412.6 21.4,405.2 23.1,412.3 24.4,404.1 25.8,411.6 27.6,404.0 29.6,412.6 31.4,406.2 33.5,412.3 35.1,405.4 37.0,412.3 38.2,406.2 40.2,411.7 41.9,403.8 43.8,414.0 45.2,403.5 46.7,411.7 48.2,406.5 49.3,412.4 50.3,404.1 52.4,413.8 53.7,404.4 55.5,413.2 56.8,405.6 58.5,412.2 60.5,406.1 62.4,412.3 63.6,408.6 65.7,413.4 66.7,406.1 68.7,412.3 69.9,405.5 71.6,413.0 73.2,406.3 74.7,413.7 76.2,408.5 78.3,413.1 80.5,406.5 82.5,412.7 84.0,408.8 85.8,413.4 86.9,408.2 88.3,412.0 89.5,407.9 91.7,413.5 93.6,407.8 94.7,413.8 96.7,408.3 98.8,412.6 100.1,405.8 102.2,412.5 104,418.3 104,423 104.0,426 96.4,426 96.4,423 92.1,423 92.1,426 81.9,426 81.9,423 79.1,423 79.1,426 69.1,426 69.1,423 65.4,423 65.4,426 56.3,426 56.3,423 53.7,423 53.7,426 44.4,426 44.4,423 41.6,423 41.6,426 33.8,426 33.8,423 29.4,423 29.4,426 21.8,426 21.8,423 19.1,423 19.1,426 10.7,426 10.7,423 6.9,423 9,423" fill="#1c981c" stroke="none" stroke-width="0" stroke-linejoin="miter" />
<g transform="rotate(-28 37.5 369)"><path d="M37.5 365.6 v-2.4 M37.5 372.4 v1.4" stroke="#15100a" stroke-width="0.9"/><ellipse cx="37.5" cy="369" rx="1.35" ry="3.6" fill="#e9a93a" stroke="#1a1000" stroke-width="0.85"/><path d="M36.6 368 h1.8 M36.6 370.2 h1.8" stroke="#5a3a08" stroke-width="0.5"/></g>
<g transform="rotate(-4 45 365.2)"><path d="M45 361.8 v-2.4 M45 368.59999999999997 v1.4" stroke="#15100a" stroke-width="0.9"/><ellipse cx="45" cy="365.2" rx="1.35" ry="3.6" fill="#e9a93a" stroke="#1a1000" stroke-width="0.85"/><path d="M44.1 364.2 h1.8 M44.1 366.4 h1.8" stroke="#5a3a08" stroke-width="0.5"/></g>
<g transform="rotate(4 50.2 366)"><path d="M50.2 362.6 v-2.4 M50.2 369.4 v1.4" stroke="#15100a" stroke-width="0.9"/><ellipse cx="50.2" cy="366" rx="1.35" ry="3.6" fill="#e9a93a" stroke="#1a1000" stroke-width="0.85"/><path d="M49.300000000000004 365 h1.8 M49.300000000000004 367.2 h1.8" stroke="#5a3a08" stroke-width="0.5"/></g>
<g transform="rotate(-38 57 369)"><path d="M57 365.6 v-2.4 M57 372.4 v1.4" stroke="#15100a" stroke-width="0.9"/><ellipse cx="57" cy="369" rx="1.35" ry="3.6" fill="#e9a93a" stroke="#1a1000" stroke-width="0.85"/><path d="M56.1 368 h1.8 M56.1 370.2 h1.8" stroke="#5a3a08" stroke-width="0.5"/></g>
<g transform="rotate(35 57.3 369)"><path d="M57.3 365.6 v-2.4 M57.3 372.4 v1.4" stroke="#15100a" stroke-width="0.9"/><ellipse cx="57.3" cy="369" rx="1.35" ry="3.6" fill="#e9a93a" stroke="#1a1000" stroke-width="0.85"/><path d="M56.4 368 h1.8 M56.4 370.2 h1.8" stroke="#5a3a08" stroke-width="0.5"/></g>
<g transform="rotate(-4 64.5 355.5)"><path d="M64.5 352.1 v-2.4 M64.5 358.9 v1.4" stroke="#15100a" stroke-width="0.9"/><ellipse cx="64.5" cy="355.5" rx="1.35" ry="3.6" fill="#e9a93a" stroke="#1a1000" stroke-width="0.85"/><path d="M63.6 354.5 h1.8 M63.6 356.7 h1.8" stroke="#5a3a08" stroke-width="0.5"/></g>
<g transform="rotate(4 66.7 364.5)"><path d="M66.7 361.1 v-2.4 M66.7 367.9 v1.4" stroke="#15100a" stroke-width="0.9"/><ellipse cx="66.7" cy="364.5" rx="1.35" ry="3.6" fill="#e9a93a" stroke="#1a1000" stroke-width="0.85"/><path d="M65.8 363.5 h1.8 M65.8 365.7 h1.8" stroke="#5a3a08" stroke-width="0.5"/></g>
<g transform="rotate(40 77.2 359.2)"><path d="M77.2 355.8 v-2.4 M77.2 362.59999999999997 v1.4" stroke="#15100a" stroke-width="0.9"/><ellipse cx="77.2" cy="359.2" rx="1.35" ry="3.6" fill="#e9a93a" stroke="#1a1000" stroke-width="0.85"/><path d="M76.3 358.2 h1.8 M76.3 360.4 h1.8" stroke="#5a3a08" stroke-width="0.5"/></g>
<g transform="rotate(-28 81.7 368.2)"><path d="M81.7 364.8 v-2.4 M81.7 371.59999999999997 v1.4" stroke="#15100a" stroke-width="0.9"/><ellipse cx="81.7" cy="368.2" rx="1.35" ry="3.6" fill="#e9a93a" stroke="#1a1000" stroke-width="0.85"/><path d="M80.8 367.2 h1.8 M80.8 369.4 h1.8" stroke="#5a3a08" stroke-width="0.5"/></g>
<g transform="rotate(-4 93.7 360.7)"><path d="M93.7 357.3 v-2.4 M93.7 364.09999999999997 v1.4" stroke="#15100a" stroke-width="0.9"/><ellipse cx="93.7" cy="360.7" rx="1.35" ry="3.6" fill="#e9a93a" stroke="#1a1000" stroke-width="0.85"/><path d="M92.8 359.7 h1.8 M92.8 361.9 h1.8" stroke="#5a3a08" stroke-width="0.5"/></g>
<g transform="rotate(4 99 362.2)"><path d="M99 358.8 v-2.4 M99 365.59999999999997 v1.4" stroke="#15100a" stroke-width="0.9"/><ellipse cx="99" cy="362.2" rx="1.35" ry="3.6" fill="#e9a93a" stroke="#1a1000" stroke-width="0.85"/><path d="M98.1 361.2 h1.8 M98.1 363.4 h1.8" stroke="#5a3a08" stroke-width="0.5"/></g>
<g transform="rotate(42 111 366)"><path d="M111 362.6 v-2.4 M111 369.4 v1.4" stroke="#15100a" stroke-width="0.9"/><ellipse cx="111" cy="366" rx="1.35" ry="3.6" fill="#e9a93a" stroke="#1a1000" stroke-width="0.85"/><path d="M110.1 365 h1.8 M110.1 367.2 h1.8" stroke="#5a3a08" stroke-width="0.5"/></g>
<polygon points="433.1,400 433.2,403.3 430,412 427.9,417.5 433,419.3 443,418.8 448.3,416.6 445,412 442,408.6 442.1,400" fill="#996633" stroke="none" stroke-width="0" stroke-linejoin="miter" />
<path d="M433.2 403.3 L430 412 L427.9 417.5 L433 419.3 L443 418.8 L448.3 416.6 L445 412 L442 408.6" fill="none" stroke="#07180f" stroke-width="0.8"/>
<polygon points="533.6,408 533.5,412 527,422 531,423.5 546,423.5 551,422 541.5,411 541.4,408" fill="#996633" stroke="none" stroke-width="0" stroke-linejoin="miter" />
<path d="M533.5 412 L527 422 L531 423.5 L546 423.5 L551 422 L541.5 411" fill="none" stroke="#07180f" stroke-width="0.8"/>
<polygon points="366,392 362,405 356,417.5 362,419 366,421 370,420 374,421 377.5,429 380,422 384,419 390,417.5 383,405 378,385 378,380 366,380" fill="#996633" stroke="none" stroke-width="0" stroke-linejoin="miter" />
<path d="M366 392 L362 405 L356 417.5 L362 419 L366 421 L370 420 L374 421 L377.5 429 L380 422 L384 419 L390 417.5 L383 405 L378 385" fill="none" stroke="#07180f" stroke-width="0.8"/>
<polygon points="370,392 373.5,408 374.5,421 366.5,421 367.5,408" fill="#000" stroke="none" stroke-width="0" stroke-linejoin="miter" />
<path d="M60 374.8 H170.2" stroke="#ff0000" stroke-width="3.8" fill="none"/>
<path d="M170 371 V315.1 H365.6" stroke="#ff0000" stroke-width="3.8" fill="none" stroke-linejoin="miter"/>
<path d="M365.6 319.5 V254.9 H425" stroke="#ff0000" stroke-width="3.8" fill="none"/>
<path d="M425 256.6 V174.6 H535" stroke="#ff0000" stroke-width="3.8" fill="none"/>
</svg>
<div class="t ttl" id="t1" style="left:155.3px;top:36.1px;">PLANT STRUCTURE:</div>
<div class="t ttl" id="t2" style="left:96.8px;top:68.1px;">Wildlife Needs Layers of Vegetation</div>
<div class="t lab" id="l1" style="left:426.2px;top:141px;">Large Trees</div>
<div class="t lab" id="l2" style="left:91.4px;top:236px;">Shrubs and Small Trees</div>
<div class="t lab" id="l3" style="left:5.2px;top:327px;">Herbaceous</div>
</div>
</body></html>
